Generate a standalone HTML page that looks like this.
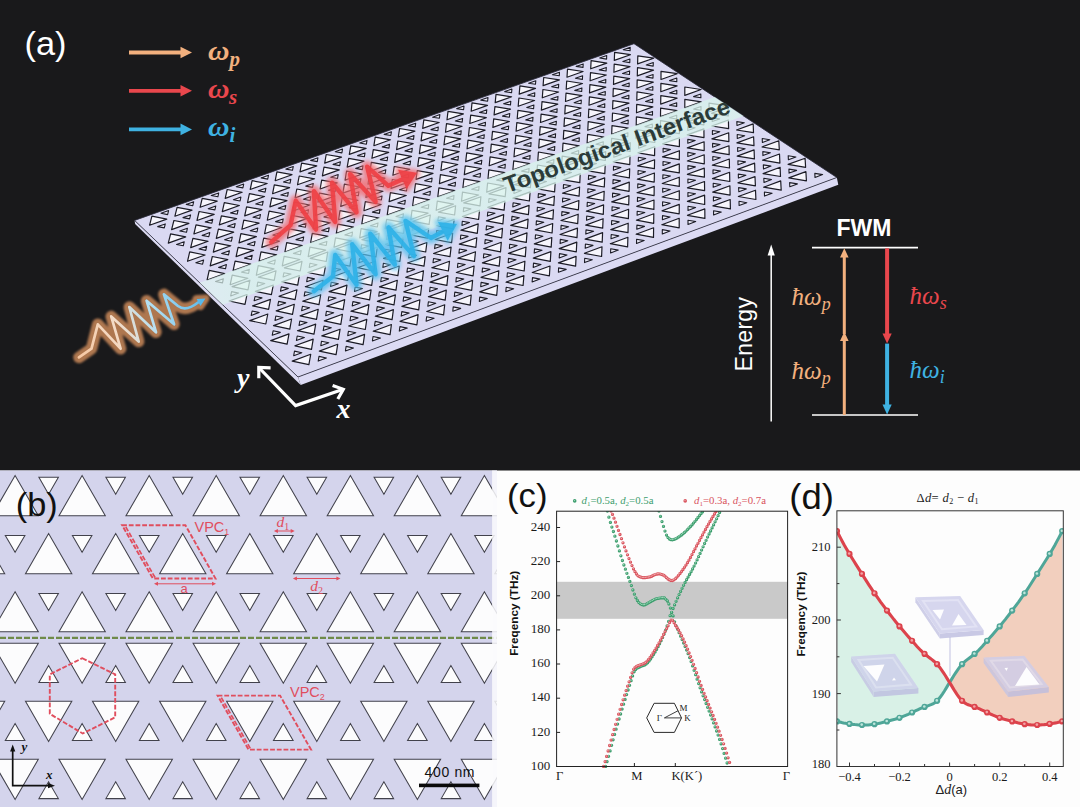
<!DOCTYPE html>
<html><head><meta charset="utf-8"><title>figure</title>
<style>html,body{margin:0;padding:0;background:#fdfdfd}svg{display:block}text{white-space:pre}</style></head>
<body><svg width="1080" height="807" viewBox="0 0 1080 807" font-family="Liberation Sans, sans-serif">
<rect x="0" y="0" width="1080" height="807" fill="#fdfdfd"/>
<rect x="0" y="0" width="1080" height="470.5" fill="#19191b"/>
<path d="M134.6 220.4 L298 377 L300.7 385 L135.1 223.9Z" fill="#dcdbf3"/>
<path d="M298 377 L836.8 177.5 L838.3 184.7 L300.7 385Z" fill="#dcdbf4"/>
<path d="M298 377 L836.8 177.5 L634 43.7 L134.6 220.4Z" fill="#dad9f2" stroke="#2a2a3a" stroke-width="0.8"/>
<path d="M230.2 284.7 L247.9 278.3 L232.2 275.1ZM256.3 275.3 L274 268.9 L258.2 265.7ZM282.3 265.9 L299.9 259.5 L284.1 256.4ZM308.2 256.6 L325.7 250.2 L309.9 247.1ZM334 247.2 L351.5 240.9 L335.5 237.8ZM359.7 237.9 L377.1 231.7 L361.1 228.6ZM385.3 228.7 L402.6 222.4 L386.6 219.4ZM410.8 219.5 L428.1 213.2 L412 210.3ZM436.2 210.3 L453.4 204.1 L437.3 201.1ZM461.5 201.2 L478.6 195 L462.5 192.1ZM486.7 192.1 L503.8 185.9 L487.6 183ZM511.8 183 L528.8 176.8 L512.6 174ZM536.8 174 L553.8 167.8 L537.5 165ZM561.7 165 L578.6 158.9 L562.2 156.1ZM586.5 156 L603.3 149.9 L587 147.2ZM611.2 147.1 L628 141 L611.6 138.3ZM635.9 138.2 L652.6 132.1 L636.1 129.5ZM660.4 129.3 L677 123.3 L660.5 120.7ZM684.8 120.5 L701.4 114.5 L684.8 111.9ZM709.2 111.7 L725.7 105.7 L709 103.1ZM207.1 280 L224.8 273.6 L209.2 270.4ZM233.1 270.6 L250.8 264.2 L235.1 261.1ZM259.1 261.3 L276.7 254.9 L261 251.8ZM284.9 252 L302.4 245.6 L286.7 242.6ZM310.6 242.7 L328.1 236.4 L312.3 233.3ZM336.3 233.4 L353.6 227.2 L337.8 224.2ZM361.8 224.2 L379.1 218 L363.2 215ZM387.2 215.1 L404.5 208.9 L388.5 205.9ZM412.6 206 L429.7 199.8 L413.8 196.9ZM437.8 196.9 L454.9 190.7 L438.9 187.8ZM462.9 187.8 L480 181.7 L463.9 178.8ZM488 178.8 L504.9 172.7 L488.8 169.9ZM512.9 169.8 L529.8 163.7 L513.7 160.9ZM537.8 160.8 L554.6 154.8 L538.4 152ZM562.5 151.9 L579.3 145.9 L563 143.2ZM587.1 143.1 L603.9 137 L587.6 134.3ZM611.7 134.2 L628.3 128.2 L612 125.6ZM636.2 125.4 L652.7 119.4 L636.4 116.8ZM660.5 116.6 L677.1 110.7 L660.6 108.1ZM684.8 107.9 L701.3 101.9 L684.8 99.4ZM210.2 265.9 L227.8 259.6 L212.3 256.5ZM236.1 256.6 L253.6 250.4 L238.1 247.3ZM261.8 247.4 L279.3 241.1 L263.7 238.1ZM287.5 238.2 L304.9 231.9 L289.2 228.9ZM313.1 229 L330.4 222.8 L314.7 219.8ZM338.5 219.8 L355.8 213.6 L340 210.7ZM363.9 210.7 L381.1 204.5 L365.3 201.6ZM389.1 201.6 L406.3 195.5 L390.4 192.6ZM414.3 192.6 L431.4 186.5 L415.5 183.6ZM439.4 183.6 L456.4 177.5 L440.4 174.7ZM464.3 174.6 L481.3 168.5 L465.3 165.8ZM489.2 165.7 L506.1 159.6 L490.1 156.9ZM514 156.8 L530.8 150.7 L514.7 148ZM538.7 147.9 L555.4 141.9 L539.3 139.2ZM563.3 139.1 L579.9 133.1 L563.8 130.4ZM587.8 130.3 L604.4 124.3 L588.2 121.7ZM612.2 121.5 L628.7 115.6 L612.5 113ZM636.5 112.8 L652.9 106.9 L636.7 104.3ZM660.7 104.1 L677.1 98.2 L660.8 95.6ZM684.8 95.4 L701.1 89.5 L684.8 87ZM187.5 261.3 L205.1 255 L189.7 251.9ZM213.3 252.1 L230.8 245.8 L215.4 242.8ZM239 242.9 L256.4 236.6 L240.9 233.6ZM264.6 233.7 L281.9 227.5 L266.4 224.5ZM290.1 224.6 L307.3 218.4 L291.8 215.4ZM315.5 215.5 L332.7 209.3 L317.1 206.4ZM340.7 206.4 L357.9 200.3 L342.2 197.4ZM365.9 197.4 L383 191.3 L367.3 188.4ZM391 188.4 L408 182.3 L392.3 179.5ZM416 179.4 L433 173.4 L417.2 170.6ZM440.9 170.5 L457.8 164.5 L442 161.7ZM465.7 161.6 L482.6 155.6 L466.7 152.9ZM490.5 152.8 L507.2 146.8 L491.3 144.1ZM515.1 143.9 L531.8 138 L515.8 135.3ZM539.6 135.1 L556.2 129.2 L540.2 126.6ZM564 126.4 L580.6 120.5 L564.5 117.9ZM588.4 117.7 L604.9 111.8 L588.8 109.2ZM612.6 109 L629 103.1 L612.9 100.6ZM636.8 100.3 L653.1 94.5 L637 91.9ZM660.8 91.7 L677.1 85.9 L660.9 83.4ZM190.7 247.6 L208.1 241.3 L192.9 238.3ZM216.3 238.4 L233.7 232.2 L218.4 229.2ZM241.9 229.3 L259.1 223.1 L243.8 220.1ZM267.3 220.2 L284.5 214 L269.1 211.1ZM292.6 211.1 L309.8 205 L294.3 202.1ZM317.8 202.1 L334.9 196 L319.4 193.1ZM342.9 193.1 L360 187.1 L344.4 184.2ZM368 184.2 L384.9 178.1 L369.3 175.3ZM392.9 175.3 L409.8 169.3 L394.2 166.5ZM417.7 166.4 L434.6 160.4 L418.9 157.7ZM442.5 157.6 L459.2 151.6 L443.5 148.9ZM467.1 148.8 L483.8 142.8 L468 140.1ZM491.7 140 L508.3 134 L492.5 131.4ZM516.1 131.2 L532.7 125.3 L516.8 122.7ZM540.5 122.5 L557 116.6 L541.1 114.1ZM564.8 113.9 L581.2 108 L565.3 105.4ZM589 105.2 L605.3 99.4 L589.4 96.8ZM613 96.6 L629.4 90.8 L613.3 88.3ZM637 88 L653.3 82.2 L637.2 79.8ZM661 79.5 L677.2 73.7 L661 71.3ZM168.3 243.1 L185.7 236.9 L170.6 233.9ZM193.9 234 L211.2 227.8 L196 224.8ZM219.3 224.9 L236.6 218.7 L221.4 215.8ZM244.7 215.9 L261.9 209.7 L246.6 206.8ZM269.9 206.9 L287 200.7 L271.7 197.9ZM295.1 197.9 L312.1 191.8 L296.8 189ZM320.1 189 L337.1 182.9 L321.7 180.1ZM345.1 180.1 L362 174 L346.6 171.2ZM370 171.2 L386.8 165.2 L371.3 162.4ZM394.7 162.4 L411.5 156.4 L396 153.7ZM419.4 153.6 L436.1 147.6 L420.5 144.9ZM444 144.8 L460.7 138.9 L445 136.2ZM468.5 136.1 L485.1 130.2 L469.4 127.5ZM492.9 127.4 L509.4 121.5 L493.7 118.9ZM517.2 118.7 L533.7 112.8 L517.9 110.3ZM541.4 110.1 L557.8 104.2 L542 101.7ZM565.5 101.5 L581.9 95.7 L566 93.2ZM589.5 92.9 L605.8 87.1 L589.9 84.7ZM613.5 84.4 L629.7 78.6 L613.8 76.2ZM637.3 75.9 L653.5 70.1 L637.5 67.7ZM171.6 229.6 L188.9 223.4 L173.9 220.5ZM197 220.5 L214.2 214.4 L199.1 211.5ZM222.3 211.6 L239.4 205.5 L224.3 202.6ZM247.5 202.6 L264.5 196.5 L249.4 193.7ZM272.6 193.7 L289.6 187.6 L274.3 184.8ZM297.5 184.8 L314.5 178.8 L299.2 176ZM322.4 175.9 L339.3 169.9 L324 167.2ZM347.2 167.1 L364 161.2 L348.7 158.4ZM371.9 158.3 L388.7 152.4 L373.3 149.7ZM396.6 149.6 L413.2 143.7 L397.8 141ZM421.1 140.9 L437.7 135 L422.2 132.3ZM445.5 132.2 L462.1 126.3 L446.5 123.7ZM469.8 123.5 L486.3 117.7 L470.7 115.1ZM494.1 114.9 L510.5 109.1 L494.9 106.6ZM518.2 106.3 L534.6 100.5 L518.9 98ZM542.3 97.8 L558.6 92 L542.9 89.5ZM566.2 89.3 L582.5 83.5 L566.7 81ZM590.1 80.8 L606.3 75 L590.5 72.6ZM613.9 72.3 L630 66.6 L614.2 64.2ZM637.6 63.9 L653.7 58.2 L637.8 55.8ZM149.6 225.2 L166.8 219.1 L151.9 216.2ZM174.9 216.2 L192 210.1 L177.1 207.3ZM200.1 207.3 L217.2 201.2 L202.2 198.4ZM225.2 198.4 L242.2 192.3 L227.2 189.5ZM250.2 189.5 L267.2 183.5 L252.1 180.7ZM275.2 180.7 L292 174.7 L276.9 171.9ZM300 171.9 L316.8 165.9 L301.6 163.2ZM324.7 163.1 L341.5 157.2 L326.2 154.5ZM349.3 154.4 L366.1 148.4 L350.8 145.8ZM373.9 145.7 L390.5 139.8 L375.2 137.1ZM398.3 137 L414.9 131.1 L399.6 128.5ZM422.7 128.4 L439.2 122.5 L423.8 119.9ZM447 119.8 L463.4 113.9 L448 111.4ZM471.2 111.2 L487.5 105.4 L472 102.9ZM495.2 102.6 L511.6 96.8 L496 94.4ZM519.2 94.1 L535.5 88.4 L519.9 85.9ZM543.1 85.6 L559.4 79.9 L543.7 77.5ZM567 77.2 L583.1 71.5 L567.5 69.1ZM590.7 68.8 L606.8 63.1 L591.1 60.7ZM614.3 60.4 L630.4 54.7 L614.6 52.4ZM232.1 286.6 L249.9 280.2 L248 289.9ZM258.3 277.2 L276 270.8 L274.2 280.4ZM284.3 267.8 L302 261.4 L300.2 271ZM310.2 258.4 L327.8 252 L326.2 261.5ZM336.1 249 L353.6 242.7 L352.1 252.2ZM361.8 239.7 L379.2 233.4 L377.9 242.8ZM387.4 230.5 L404.8 224.2 L403.5 233.5ZM413 221.3 L430.3 215 L429.1 224.3ZM438.4 212.1 L455.6 205.8 L454.6 215ZM463.7 202.9 L480.9 196.7 L480 205.9ZM488.9 193.8 L506 187.6 L505.2 196.7ZM514.1 184.7 L531.1 178.5 L530.4 187.6ZM539.1 175.7 L556 169.5 L555.5 178.5ZM564 166.6 L580.9 160.5 L580.5 169.5ZM588.8 157.7 L605.7 151.6 L605.3 160.5ZM613.6 148.7 L630.3 142.7 L630.1 151.5ZM638.2 139.8 L654.9 133.8 L654.8 142.5ZM662.8 130.9 L679.4 124.9 L679.4 133.6ZM687.2 122.1 L703.8 116.1 L703.9 124.8ZM711.6 113.3 L728.1 107.3 L728.3 115.9ZM229.1 301 L247 294.5 L245 304.3ZM255.4 291.4 L273.3 285 L271.4 294.7ZM281.7 281.9 L299.4 275.5 L297.7 285.2ZM307.8 272.5 L325.5 266.1 L323.8 275.7ZM333.8 263 L351.4 256.7 L349.9 266.2ZM359.7 253.7 L377.2 247.3 L375.9 256.8ZM385.5 244.3 L403 238 L401.7 247.4ZM411.2 235 L428.6 228.7 L427.4 238.1ZM436.8 225.7 L454.1 219.4 L453.1 228.8ZM462.3 216.5 L479.5 210.2 L478.6 219.5ZM487.7 207.3 L504.9 201 L504.1 210.2ZM512.9 198.1 L530.1 191.9 L529.4 201ZM538.1 189 L555.2 182.8 L554.6 191.9ZM563.2 179.9 L580.2 173.7 L579.8 182.7ZM588.2 170.8 L605.2 164.7 L604.8 173.6ZM613.1 161.8 L630 155.7 L629.8 164.6ZM637.9 152.8 L654.7 146.7 L654.6 155.6ZM662.6 143.8 L679.4 137.8 L679.4 146.6ZM687.2 134.9 L703.9 128.9 L704 137.6ZM711.8 126 L728.4 120 L728.6 128.7ZM252.6 305.9 L270.5 299.4 L268.6 309.3ZM279 296.3 L296.9 289.8 L295.1 299.6ZM305.3 286.7 L323.1 280.3 L321.4 290ZM331.4 277.2 L349.2 270.8 L347.7 280.5ZM357.5 267.7 L375.2 261.3 L373.8 271ZM383.5 258.3 L401.1 251.9 L399.8 261.5ZM409.4 248.9 L426.9 242.5 L425.7 252ZM435.1 239.5 L452.6 233.2 L451.6 242.6ZM460.8 230.2 L478.2 223.9 L477.3 233.3ZM486.4 220.9 L503.7 214.6 L502.9 223.9ZM511.8 211.6 L529.1 205.4 L528.4 214.7ZM537.2 202.4 L554.4 196.2 L553.8 205.4ZM562.5 193.2 L579.6 187 L579.1 196.2ZM587.6 184.1 L604.7 177.9 L604.3 187ZM612.7 175 L629.7 168.8 L629.4 177.9ZM637.6 165.9 L654.6 159.8 L654.4 168.7ZM662.5 156.9 L679.4 150.7 L679.3 159.7ZM687.3 147.9 L704.1 141.8 L704.2 150.6ZM711.9 138.9 L728.7 132.8 L728.9 141.6ZM736.5 130 L753.2 123.9 L753.5 132.7ZM249.7 320.6 L267.8 314 L265.8 324ZM276.2 310.9 L294.3 304.3 L292.5 314.3ZM302.7 301.2 L320.7 294.7 L319 304.6ZM329.1 291.6 L347 285.1 L345.4 294.9ZM355.3 282 L373.1 275.5 L371.7 285.3ZM381.5 272.5 L399.2 266 L397.9 275.7ZM407.5 263 L425.2 256.6 L424 266.2ZM433.5 253.5 L451.1 247.1 L450 256.7ZM459.3 244.1 L476.8 237.7 L475.9 247.3ZM485.1 234.7 L502.5 228.4 L501.7 237.8ZM510.7 225.4 L528.1 219.1 L527.4 228.5ZM536.2 216.1 L553.5 209.8 L552.9 219.1ZM561.7 206.8 L578.9 200.5 L578.4 209.8ZM587 197.6 L604.2 191.3 L603.8 200.5ZM612.2 188.4 L629.3 182.1 L629.1 191.3ZM637.3 179.2 L654.4 173 L654.2 182.1ZM662.4 170.1 L679.3 163.9 L679.3 172.9ZM687.3 161 L704.2 154.8 L704.3 163.8ZM712.1 151.9 L729 145.8 L729.2 154.7ZM736.9 142.9 L753.6 136.8 L754 145.7ZM273.5 325.6 L291.6 319 L289.8 329.1ZM300.1 315.9 L318.2 309.3 L316.5 319.3ZM326.7 306.2 L344.7 299.6 L343.1 309.6ZM353.1 296.5 L371.1 289.9 L369.6 299.9ZM379.5 286.9 L397.3 280.3 L396 290.2ZM405.7 277.3 L423.5 270.8 L422.3 280.6ZM431.8 267.7 L449.5 261.3 L448.4 271ZM457.8 258.2 L475.5 251.8 L474.5 261.4ZM483.7 248.7 L501.3 242.3 L500.5 251.9ZM509.5 239.3 L527 232.9 L526.3 242.4ZM535.2 229.9 L552.7 223.5 L552.1 233ZM560.9 220.5 L578.2 214.2 L577.7 223.6ZM586.3 211.2 L603.6 204.9 L603.3 214.3ZM611.7 201.9 L629 195.6 L628.7 204.9ZM637 192.7 L654.2 186.4 L654.1 195.6ZM662.2 183.5 L679.3 177.2 L679.3 186.4ZM687.3 174.3 L704.3 168.1 L704.4 177.2ZM712.3 165.2 L729.3 159 L729.5 168ZM737.2 156.1 L754.1 149.9 L754.4 158.9ZM762 147 L778.8 140.8 L779.3 149.8ZM270.7 340.6 L289 333.9 L287.1 344.1ZM297.5 330.7 L315.7 324.1 L314 334.2ZM324.3 320.9 L342.4 314.3 L340.8 324.4ZM350.9 311.2 L368.9 304.6 L367.5 314.6ZM377.4 301.4 L395.4 294.9 L394 304.8ZM403.8 291.8 L421.7 285.2 L420.5 295.1ZM430.1 282.1 L447.9 275.6 L446.9 285.4ZM456.3 272.5 L474.1 266 L473.1 275.8ZM482.4 262.9 L500.1 256.5 L499.2 266.2ZM508.4 253.4 L526 247 L525.3 256.6ZM534.3 243.9 L551.8 237.5 L551.2 247.1ZM560 234.5 L577.5 228.1 L577 237.6ZM585.7 225.1 L603.1 218.7 L602.7 228.2ZM611.3 215.7 L628.6 209.3 L628.4 218.7ZM636.7 206.3 L654 200 L653.9 209.4ZM662.1 197 L679.3 190.7 L679.3 200ZM687.4 187.8 L704.5 181.5 L704.6 190.7ZM712.5 178.6 L729.6 172.3 L729.8 181.5ZM737.6 169.4 L754.6 163.1 L754.9 172.2ZM762.5 160.2 L779.5 154 L779.9 163.1ZM294.9 345.8 L313.2 339.1 L311.5 349.4ZM321.8 335.9 L340.1 329.2 L338.4 339.4ZM348.6 326 L366.8 319.4 L365.3 329.5ZM375.3 316.2 L393.4 309.6 L392.1 319.7ZM401.9 306.4 L419.9 299.8 L418.7 309.9ZM428.4 296.7 L446.3 290.1 L445.2 300.1ZM454.8 287 L472.6 280.4 L471.7 290.3ZM481 277.3 L498.8 270.8 L498 280.6ZM507.2 267.7 L524.9 261.2 L524.2 271ZM533.3 258.1 L550.9 251.6 L550.3 261.4ZM559.2 248.6 L576.8 242.1 L576.3 251.8ZM585.1 239.1 L602.6 232.6 L602.2 242.2ZM610.8 229.6 L628.2 223.2 L628 232.7ZM636.4 220.2 L653.8 213.8 L653.7 223.3ZM662 210.8 L679.3 204.4 L679.2 213.8ZM687.4 201.4 L704.6 195.1 L704.7 204.5ZM712.7 192.1 L729.9 185.8 L730.1 195.1ZM737.9 182.8 L755 176.6 L755.4 185.8ZM763.1 173.6 L780.1 167.3 L780.5 176.5ZM788.1 164.4 L805.1 158.2 L805.6 167.3ZM292.2 361.1 L310.7 354.3 L308.9 364.7ZM319.3 351.1 L337.7 344.3 L336.1 354.7ZM346.3 341.1 L364.6 334.4 L363.1 344.7ZM373.2 331.2 L391.4 324.5 L390.1 334.7ZM400 321.3 L418.1 314.6 L416.9 324.8ZM426.7 311.5 L444.7 304.8 L443.6 314.9ZM453.2 301.7 L471.2 295 L470.2 305.1ZM479.7 291.9 L497.6 285.3 L496.7 295.3ZM506 282.2 L523.9 275.6 L523.1 285.5ZM532.2 272.5 L550 266 L549.4 275.8ZM558.4 262.9 L576.1 256.4 L575.6 266.2ZM584.4 253.3 L602 246.8 L601.6 256.5ZM610.3 243.7 L627.9 237.3 L627.6 246.9ZM636.1 234.2 L653.6 227.8 L653.5 237.4ZM661.8 224.7 L679.2 218.3 L679.2 227.8ZM687.4 215.3 L704.8 208.9 L704.9 218.4ZM712.9 205.9 L730.2 199.5 L730.4 208.9ZM738.3 196.5 L755.5 190.2 L755.9 199.5ZM763.6 187.2 L780.7 180.9 L781.2 190.2ZM788.8 177.9 L805.9 171.6 L806.4 180.8Z" fill="#f6f5fc" stroke="#1c1c26" stroke-width="1.2" stroke-linejoin="round"/>
<path d="M215.5 281.5 L223.4 278.7 L222.5 282.9ZM241.6 272.1 L249.4 269.3 L248.6 273.5ZM267.6 262.8 L275.3 260 L274.5 264.2ZM293.4 253.4 L301.2 250.6 L300.4 254.8ZM319.2 244.1 L326.9 241.4 L326.2 245.5ZM344.8 234.9 L352.5 232.1 L351.9 236.2ZM370.4 225.7 L378 222.9 L377.4 227ZM395.9 216.5 L403.5 213.7 L402.9 217.8ZM421.2 207.3 L428.8 204.6 L428.3 208.6ZM446.5 198.2 L454 195.5 L453.6 199.5ZM471.6 189.2 L479.1 186.4 L478.7 190.4ZM496.7 180.1 L504.2 177.4 L503.8 181.4ZM521.6 171.1 L529.1 168.4 L528.8 172.4ZM546.5 162.2 L553.9 159.5 L553.7 163.4ZM571.3 153.2 L578.7 150.6 L578.5 154.4ZM595.9 144.3 L603.3 141.7 L603.2 145.5ZM620.5 135.5 L627.9 132.8 L627.8 136.6ZM645 126.6 L652.3 124 L652.3 127.8ZM669.4 117.8 L676.7 115.2 L676.7 119ZM693.7 109.1 L701 106.5 L701 110.2ZM218.6 267.4 L226.4 264.6 L225.5 268.8ZM244.5 258.1 L252.2 255.3 L251.4 259.5ZM270.3 248.9 L278 246.1 L277.2 250.2ZM296 239.6 L303.7 236.9 L302.9 241ZM321.6 230.4 L329.2 227.7 L328.5 231.8ZM347 221.2 L354.7 218.5 L354 222.6ZM372.4 212.1 L380 209.4 L379.4 213.4ZM397.7 203 L405.3 200.3 L404.7 204.3ZM422.9 194 L430.4 191.3 L429.9 195.2ZM448 184.9 L455.5 182.2 L455.1 186.2ZM473 176 L480.5 173.3 L480.1 177.2ZM497.9 167 L505.3 164.3 L505 168.2ZM522.7 158.1 L530.1 155.4 L529.8 159.3ZM547.4 149.2 L554.8 146.5 L554.5 150.4ZM572 140.3 L579.3 137.7 L579.1 141.5ZM596.5 131.5 L603.8 128.9 L603.7 132.7ZM620.9 122.7 L628.2 120.1 L628.1 123.9ZM645.2 114 L652.5 111.4 L652.5 115.1ZM669.5 105.3 L676.7 102.7 L676.7 106.4ZM693.6 96.6 L700.8 94 L700.9 97.7ZM195.8 262.8 L203.6 260 L202.6 264.2ZM221.6 253.5 L229.4 250.8 L228.5 254.9ZM247.4 244.3 L255.1 241.6 L254.2 245.7ZM273 235.1 L280.6 232.4 L279.8 236.5ZM298.5 226 L306.1 223.2 L305.4 227.3ZM323.9 216.9 L331.5 214.1 L330.8 218.2ZM349.2 207.8 L356.8 205.1 L356.2 209.1ZM374.4 198.7 L382 196 L381.4 200ZM399.5 189.7 L407.1 187 L406.5 191ZM424.6 180.8 L432.1 178.1 L431.6 182ZM449.5 171.8 L457 169.1 L456.5 173.1ZM474.3 162.9 L481.8 160.2 L481.4 164.1ZM499.1 154 L506.5 151.4 L506.1 155.2ZM523.7 145.2 L531.1 142.6 L530.8 146.4ZM548.2 136.4 L555.6 133.8 L555.3 137.6ZM572.7 127.6 L580 125 L579.8 128.8ZM597 118.9 L604.3 116.3 L604.2 120ZM621.3 110.2 L628.6 107.6 L628.5 111.3ZM645.5 101.5 L652.7 98.9 L652.7 102.6ZM669.6 92.9 L676.8 90.3 L676.8 94ZM199 249 L206.7 246.2 L205.8 250.4ZM224.6 239.8 L232.3 237.1 L231.4 241.2ZM250.2 230.7 L257.8 228 L257 232ZM275.6 221.6 L283.2 218.9 L282.5 222.9ZM301 212.5 L308.5 209.8 L307.8 213.8ZM326.2 203.5 L333.8 200.8 L333.1 204.8ZM351.4 194.5 L358.9 191.8 L358.3 195.8ZM376.4 185.5 L383.9 182.9 L383.3 186.8ZM401.4 176.6 L408.8 173.9 L408.3 177.9ZM426.2 167.7 L433.7 165.1 L433.2 168.9ZM451 158.9 L458.4 156.2 L458 160.1ZM475.6 150 L483 147.4 L482.6 151.2ZM500.2 141.2 L507.6 138.6 L507.2 142.4ZM524.7 132.5 L532 129.9 L531.7 133.7ZM549.1 123.8 L556.4 121.2 L556.1 124.9ZM573.4 115.1 L580.7 112.5 L580.5 116.2ZM597.6 106.4 L604.8 103.8 L604.7 107.5ZM621.7 97.8 L628.9 95.2 L628.8 98.9ZM645.7 89.2 L652.9 86.6 L652.8 90.3ZM669.6 80.6 L676.8 78.1 L676.8 81.7ZM176.5 244.5 L184.2 241.8 L183.3 245.8ZM202.1 235.4 L209.8 232.6 L208.8 236.7ZM227.6 226.3 L235.2 223.6 L234.3 227.6ZM253 217.2 L260.5 214.5 L259.7 218.5ZM278.2 208.2 L285.8 205.5 L285 209.5ZM303.4 199.2 L310.9 196.6 L310.2 200.5ZM328.5 190.3 L336 187.6 L335.3 191.6ZM353.5 181.4 L360.9 178.7 L360.3 182.6ZM378.4 172.5 L385.8 169.8 L385.2 173.7ZM403.1 163.7 L410.6 161 L410 164.9ZM427.8 154.8 L435.2 152.2 L434.8 156ZM452.4 146.1 L459.8 143.4 L459.4 147.3ZM477 137.3 L484.3 134.7 L483.9 138.5ZM501.4 128.6 L508.7 126 L508.3 129.8ZM525.7 119.9 L533 117.3 L532.7 121.1ZM549.9 111.3 L557.2 108.7 L556.9 112.4ZM574.1 102.7 L581.3 100.1 L581.1 103.8ZM598.1 94.1 L605.3 91.5 L605.2 95.2ZM622.1 85.5 L629.2 83 L629.1 86.6ZM645.9 77 L653.1 74.5 L653 78.1ZM179.8 231 L187.4 228.3 L186.5 232.3ZM205.2 221.9 L212.8 219.2 L211.9 223.2ZM230.5 212.9 L238.1 210.2 L237.2 214.2ZM255.7 204 L263.2 201.3 L262.4 205.2ZM280.8 195 L288.3 192.4 L287.6 196.3ZM305.8 186.1 L313.3 183.5 L312.6 187.4ZM330.7 177.3 L338.2 174.6 L337.5 178.5ZM355.6 168.4 L363 165.8 L362.4 169.6ZM380.3 159.6 L387.7 157 L387.1 160.8ZM404.9 150.9 L412.3 148.2 L411.8 152.1ZM429.5 142.1 L436.8 139.5 L436.3 143.3ZM453.9 133.4 L461.2 130.8 L460.8 134.6ZM478.2 124.8 L485.5 122.2 L485.2 125.9ZM502.5 116.1 L509.8 113.5 L509.4 117.3ZM526.7 107.5 L533.9 105 L533.6 108.7ZM550.8 99 L558 96.4 L557.7 100.1ZM574.7 90.4 L581.9 87.9 L581.7 91.5ZM598.6 81.9 L605.8 79.4 L605.7 83ZM622.5 73.5 L629.6 70.9 L629.5 74.5ZM646.2 65 L653.3 62.5 L653.2 66.1ZM157.7 226.6 L165.3 223.9 L164.3 227.9ZM183 217.6 L190.6 214.9 L189.6 218.9ZM208.2 208.7 L215.8 206 L214.9 209.9ZM233.4 199.7 L240.9 197.1 L240.1 201ZM258.4 190.8 L265.9 188.2 L265.1 192.1ZM283.4 182 L290.8 179.3 L290.1 183.2ZM308.2 173.2 L315.6 170.5 L314.9 174.4ZM333 164.4 L340.4 161.8 L339.7 165.6ZM357.6 155.6 L365 153 L364.4 156.8ZM382.2 146.9 L389.5 144.3 L389 148.1ZM406.7 138.2 L414 135.6 L413.5 139.4ZM431 129.6 L438.3 127 L437.9 130.7ZM455.3 121 L462.6 118.4 L462.2 122.1ZM479.5 112.4 L486.8 109.8 L486.4 113.5ZM503.6 103.8 L510.8 101.3 L510.5 104.9ZM527.7 95.3 L534.8 92.7 L534.6 96.4ZM551.6 86.8 L558.7 84.3 L558.5 87.9ZM575.4 78.3 L582.6 75.8 L582.4 79.4ZM599.2 69.9 L606.3 67.4 L606.1 71ZM622.8 61.5 L629.9 59 L629.8 62.6ZM161 213.3 L168.6 210.6 L167.6 214.6ZM186.2 204.4 L193.7 201.7 L192.8 205.7ZM211.2 195.5 L218.7 192.9 L217.9 196.8ZM236.2 186.7 L243.7 184.1 L242.9 187.9ZM261.1 177.9 L268.5 175.3 L267.7 179.1ZM285.9 169.1 L293.3 166.5 L292.5 170.3ZM310.6 160.4 L317.9 157.8 L317.3 161.6ZM335.2 151.7 L342.5 149.1 L341.9 152.9ZM359.7 143 L367 140.4 L366.4 144.2ZM384.1 134.4 L391.4 131.8 L390.8 135.5ZM408.4 125.8 L415.7 123.2 L415.2 126.9ZM432.6 117.2 L439.9 114.6 L439.4 118.3ZM456.7 108.6 L464 106.1 L463.6 109.8ZM480.8 100.1 L488 97.6 L487.6 101.2ZM504.7 91.6 L511.9 89.1 L511.6 92.7ZM528.6 83.2 L535.8 80.7 L535.5 84.3ZM552.4 74.8 L559.5 72.3 L559.3 75.8ZM576.1 66.4 L583.2 63.9 L583 67.4ZM599.7 58 L606.7 55.5 L606.6 59.1ZM623.2 49.7 L630.2 47.2 L630.1 50.7ZM230.7 295.9 L238.6 293.1 L231.6 291.6ZM257 286.4 L264.8 283.6 L257.8 282.1ZM283.1 276.9 L291 274.1 L283.9 272.7ZM309.2 267.5 L317 264.7 L309.9 263.3ZM335.1 258.1 L342.9 255.3 L335.8 253.9ZM361 248.8 L368.7 246 L361.6 244.6ZM386.7 239.4 L394.4 236.6 L387.3 235.3ZM412.3 230.2 L420 227.4 L412.9 226ZM437.9 220.9 L445.5 218.1 L438.4 216.8ZM463.3 211.7 L470.9 208.9 L463.7 207.6ZM488.6 202.5 L496.2 199.8 L489 198.5ZM513.9 193.4 L521.4 190.6 L514.2 189.4ZM539 184.3 L546.5 181.5 L539.3 180.3ZM564.1 175.2 L571.5 172.5 L564.3 171.2ZM589 166.2 L596.5 163.5 L589.2 162.2ZM613.8 157.2 L621.3 154.5 L614 153.3ZM638.6 148.2 L646 145.5 L638.7 144.3ZM663.2 139.3 L670.6 136.6 L663.3 135.4ZM687.8 130.4 L695.1 127.7 L687.8 126.6ZM712.2 121.5 L719.6 118.9 L712.2 117.7ZM254.1 300.8 L262 297.9 L255 296.5ZM280.5 291.2 L288.3 288.4 L281.3 286.9ZM306.7 281.7 L314.5 278.9 L307.4 277.4ZM332.8 272.2 L340.6 269.4 L333.5 268ZM358.8 262.8 L366.6 260 L359.5 258.6ZM384.7 253.4 L392.5 250.6 L385.3 249.2ZM410.6 244 L418.3 241.2 L411.1 239.8ZM436.3 234.7 L444 231.9 L436.7 230.5ZM461.9 225.4 L469.5 222.6 L462.3 221.2ZM487.4 216.1 L495 213.3 L487.8 212ZM512.8 206.9 L520.4 204.1 L513.1 202.8ZM538.1 197.7 L545.6 194.9 L538.4 193.6ZM563.3 188.5 L570.8 185.8 L563.5 184.5ZM588.4 179.4 L595.9 176.7 L588.6 175.4ZM613.4 170.3 L620.9 167.6 L613.5 166.4ZM638.3 161.3 L645.7 158.6 L638.4 157.3ZM663.1 152.3 L670.5 149.6 L663.1 148.4ZM687.8 143.3 L695.2 140.6 L687.8 139.4ZM712.4 134.4 L719.8 131.7 L712.4 130.5ZM737 125.4 L744.3 122.8 L736.8 121.6ZM251.2 315.4 L259.2 312.5 L252.1 311ZM277.8 305.7 L285.7 302.9 L278.6 301.4ZM304.2 296.1 L312.1 293.2 L304.9 291.8ZM330.5 286.5 L338.3 283.7 L331.2 282.2ZM356.7 277 L364.5 274.1 L357.3 272.7ZM382.8 267.5 L390.6 264.7 L383.4 263.2ZM408.7 258 L416.5 255.2 L409.3 253.8ZM434.6 248.6 L442.4 245.8 L435.1 244.4ZM460.4 239.2 L468.1 236.4 L460.8 235ZM486.1 229.9 L493.8 227.1 L486.5 225.7ZM511.6 220.5 L519.3 217.8 L512 216.4ZM537.1 211.3 L544.7 208.5 L537.4 207.2ZM562.5 202 L570.1 199.3 L562.7 198ZM587.8 192.8 L595.3 190.1 L587.9 188.8ZM612.9 183.7 L620.5 180.9 L613.1 179.6ZM638 174.5 L645.5 171.8 L638.1 170.5ZM663 165.4 L670.4 162.7 L663 161.5ZM687.8 156.4 L695.3 153.7 L687.8 152.4ZM712.6 147.3 L720 144.6 L712.6 143.4ZM737.3 138.4 L744.7 135.7 L737.2 134.5ZM275 320.4 L283 317.5 L275.8 316ZM301.6 310.7 L309.6 307.8 L302.4 306.3ZM328.1 301 L336 298.1 L328.8 296.7ZM354.5 291.4 L362.4 288.5 L355.1 287.1ZM380.7 281.8 L388.6 278.9 L381.3 277.5ZM406.9 272.3 L414.7 269.4 L407.5 268ZM433 262.7 L440.8 259.9 L433.5 258.5ZM458.9 253.3 L466.7 250.4 L459.4 249ZM484.8 243.8 L492.5 241 L485.2 239.6ZM510.5 234.4 L518.2 231.6 L510.8 230.2ZM536.1 225 L543.8 222.2 L536.4 220.9ZM561.7 215.7 L569.3 212.9 L561.9 211.6ZM587.1 206.4 L594.7 203.6 L587.3 202.3ZM612.5 197.2 L620 194.4 L612.6 193.1ZM637.7 187.9 L645.3 185.2 L637.8 183.9ZM662.8 178.8 L670.4 176 L662.9 174.7ZM687.9 169.6 L695.4 166.9 L687.9 165.6ZM712.8 160.5 L720.3 157.8 L712.8 156.5ZM737.7 151.4 L745.1 148.7 L737.6 147.5ZM762.4 142.4 L769.8 139.7 L762.2 138.5ZM272.2 335.3 L280.3 332.4 L273.1 330.8ZM299 325.5 L307 322.6 L299.8 321ZM325.7 315.7 L333.7 312.8 L326.4 311.3ZM352.2 306 L360.2 303.1 L352.9 301.6ZM378.7 296.3 L386.6 293.4 L379.3 291.9ZM405 286.7 L412.9 283.8 L405.6 282.3ZM431.3 277.1 L439.1 274.2 L431.8 272.7ZM457.4 267.5 L465.2 264.6 L457.9 263.2ZM483.4 257.9 L491.2 255.1 L483.8 253.7ZM509.4 248.4 L517.1 245.6 L509.7 244.2ZM535.2 239 L542.9 236.2 L535.5 234.8ZM560.9 229.6 L568.6 226.8 L561.1 225.4ZM586.5 220.2 L594.2 217.4 L586.7 216ZM612 210.8 L619.6 208 L612.1 206.7ZM637.4 201.5 L645 198.8 L637.5 197.4ZM662.7 192.3 L670.3 189.5 L662.7 188.2ZM687.9 183 L695.5 180.3 L687.9 179ZM713 173.8 L720.5 171.1 L713 169.8ZM738 164.7 L745.5 161.9 L737.9 160.7ZM762.9 155.6 L770.4 152.8 L762.8 151.6ZM296.4 340.5 L304.4 337.5 L297.2 336ZM323.2 330.6 L331.3 327.7 L324 326.1ZM350 320.8 L358 317.9 L350.7 316.3ZM376.6 311 L384.6 308.1 L377.2 306.6ZM403.1 301.3 L411.1 298.4 L403.7 296.9ZM429.6 291.6 L437.5 288.7 L430.1 287.2ZM455.9 281.9 L463.8 279 L456.3 277.6ZM482.1 272.3 L489.9 269.4 L482.5 268ZM508.2 262.7 L516 259.8 L508.5 258.4ZM534.2 253.1 L542 250.3 L534.5 248.9ZM560.1 243.6 L567.8 240.8 L560.3 239.4ZM585.8 234.1 L593.6 231.3 L586 229.9ZM611.5 224.7 L619.2 221.9 L611.7 220.5ZM637.1 215.3 L644.8 212.5 L637.2 211.2ZM662.6 206 L670.2 203.2 L662.6 201.8ZM687.9 196.6 L695.5 193.8 L687.9 192.5ZM713.2 187.3 L720.8 184.6 L713.2 183.3ZM738.4 178.1 L745.9 175.3 L738.3 174.1ZM763.5 168.9 L771 166.1 L763.3 164.9ZM788.4 159.7 L795.9 157 L788.2 155.7ZM293.7 355.7 L301.8 352.7 L294.5 351.1ZM320.8 345.7 L328.8 342.8 L321.5 341.2ZM347.7 335.8 L355.8 332.8 L348.4 331.3ZM374.5 325.9 L382.5 323 L375.2 321.4ZM401.2 316.1 L409.2 313.1 L401.8 311.6ZM427.8 306.3 L435.8 303.3 L428.4 301.8ZM454.3 296.5 L462.3 293.6 L454.8 292.1ZM480.7 286.8 L488.6 283.9 L481.1 282.4ZM507 277.1 L514.9 274.2 L507.4 272.8ZM533.2 267.5 L541 264.6 L533.5 263.1ZM559.2 257.9 L567 255 L559.5 253.6ZM585.2 248.3 L593 245.4 L585.4 244ZM611 238.8 L618.8 235.9 L611.2 234.5ZM636.8 229.3 L644.5 226.4 L636.9 225.1ZM662.4 219.8 L670.1 217 L662.5 215.6ZM688 210.4 L695.6 207.6 L688 206.3ZM713.4 201 L721 198.2 L713.4 196.9ZM738.8 191.7 L746.3 188.9 L738.6 187.6ZM764 182.4 L771.5 179.6 L763.8 178.3ZM789.1 173.1 L796.6 170.4 L788.9 169.1ZM318.2 361.1 L326.4 358 L319 356.4ZM345.4 351 L353.5 348 L346.1 346.4ZM372.4 341 L380.5 338.1 L373 336.5ZM399.3 331.1 L407.3 328.1 L399.9 326.6ZM426.1 321.2 L434.1 318.2 L426.6 316.7ZM452.8 311.3 L460.7 308.4 L453.2 306.9ZM479.3 301.5 L487.3 298.6 L479.7 297.1ZM505.8 291.7 L513.7 288.8 L506.2 287.3ZM532.1 282 L540 279.1 L532.5 277.6ZM558.4 272.3 L566.2 269.4 L558.6 267.9ZM584.5 262.6 L592.3 259.7 L584.7 258.3ZM610.6 253 L618.3 250.1 L610.7 248.7ZM636.5 243.4 L644.2 240.6 L636.6 239.2ZM662.3 233.9 L670 231 L662.3 229.6ZM688 224.4 L695.7 221.5 L688 220.2ZM713.6 214.9 L721.3 212.1 L713.6 210.7ZM739.1 205.5 L746.8 202.7 L739 201.3ZM764.5 196.1 L772.1 193.3 L764.4 192ZM789.8 186.7 L797.4 183.9 L789.6 182.6ZM815 177.4 L822.6 174.6 L814.8 173.4Z" fill="#e9e8f6" stroke="#1c1c26" stroke-width="1.1" stroke-linejoin="round"/>
<defs><linearGradient id="bg" gradientUnits="userSpaceOnUse" x1="200" y1="300" x2="740" y2="105"><stop offset="0" stop-color="#e2f6f2" stop-opacity="0.6"/><stop offset="0.08" stop-color="#d8f4ec" stop-opacity="0.76"/><stop offset="1" stop-color="#d8f4ec" stop-opacity="0.76"/></linearGradient><filter id="gl" x="-20%" y="-20%" width="140%" height="140%"><feGaussianBlur stdDeviation="2.2"/></filter><filter id="gl2" x="-20%" y="-20%" width="140%" height="140%"><feGaussianBlur stdDeviation="1.2"/></filter><filter id="soft"><feGaussianBlur stdDeviation="0.5"/></filter><linearGradient id="pg" gradientUnits="userSpaceOnUse" x1="79" y1="357" x2="205" y2="299"><stop offset="0" stop-color="#f6c8a4"/><stop offset="0.35" stop-color="#f3dcc8"/><stop offset="0.6" stop-color="#b6e0f2"/><stop offset="1" stop-color="#58b8ea"/></linearGradient></defs>
<path d="M222.7 304.8 L743.5 116 L714.8 97 L199.6 282.7Z" fill="url(#bg)"/>
<text transform="translate(507.1 193.3) rotate(-19.7)" font-family="Liberation Sans, sans-serif" font-weight="bold" font-size="23" fill="#2b3b39" textLength="238.7" lengthAdjust="spacingAndGlyphs">Topological Interface</text>
<g filter="url(#gl)" opacity="0.78"><path d="M271.3 242.2 L290.5 225.2 L295.8 200.7 L316 229.4 L313.9 191.1 L335.2 222 L332 182.6 L356.5 212.4 L350.1 174.1 L375.6 201.8 L367.1 166.6 L388.4 185.8 L408 176.8" fill="none" stroke="#f2686c" stroke-width="11.5" stroke-linejoin="round" stroke-linecap="round"/><path d="M417 172.8 L406.6 188.9 L398.1 169.7Z" fill="#f2686c" stroke="#f2686c" stroke-width="6" stroke-linejoin="round"/></g>
<g filter="url(#soft)" opacity="0.9"><path d="M271.3 242.2 L290.5 225.2 L295.8 200.7 L316 229.4 L313.9 191.1 L335.2 222 L332 182.6 L356.5 212.4 L350.1 174.1 L375.6 201.8 L367.1 166.6 L388.4 185.8 L408 176.8" fill="none" stroke="#ef3f45" stroke-width="4.4" stroke-linejoin="round" stroke-linecap="round"/><path d="M417 172.8 L406.6 188.9 L398.1 169.7Z" fill="#ef3f45"/></g>
<g filter="url(#gl)" opacity="0.78"><path d="M313.9 291.2 L333 276.3 L335.2 255 L356.5 284.8 L352.2 244.3 L375.6 274.2 L370.3 233.7 L394.8 264.6 L388.4 227.3 L414 256.1 L405.5 220.9 L431 238 L448 228.7" fill="none" stroke="#55c0ee" stroke-width="11.5" stroke-linejoin="round" stroke-linecap="round"/><path d="M457 224 L447.7 240.7 L438 222.1Z" fill="#55c0ee" stroke="#55c0ee" stroke-width="6" stroke-linejoin="round"/></g>
<g filter="url(#soft)" opacity="0.9"><path d="M313.9 291.2 L333 276.3 L335.2 255 L356.5 284.8 L352.2 244.3 L375.6 274.2 L370.3 233.7 L394.8 264.6 L388.4 227.3 L414 256.1 L405.5 220.9 L431 238 L448 228.7" fill="none" stroke="#2fb2e8" stroke-width="4.4" stroke-linejoin="round" stroke-linecap="round"/><path d="M457 224 L447.7 240.7 L438 222.1Z" fill="#2fb2e8"/></g>
<g filter="url(#gl2)"><path d="M78.9 357.4 L91.5 348.7 L97.8 324.3 L120.6 348.7 L111.2 316.4 L138.7 341.6 L129.3 307 L156 332.2 L146.6 300.7 L174.1 324.3 L163.9 294.4 L178 306 Q186 312 198 302.5" fill="none" stroke="#ae7750" stroke-width="11.5" stroke-linejoin="round" stroke-linecap="round"/><path d="M205.5 298.6 L200.5 306 L196.6 299.1Z" fill="#ae7750" stroke="#ae7750" stroke-width="8" stroke-linejoin="round"/></g>
<g filter="url(#soft)"><path d="M78.9 357.4 L91.5 348.7 L97.8 324.3 L120.6 348.7 L111.2 316.4 L138.7 341.6 L129.3 307 L156 332.2 L146.6 300.7 L174.1 324.3 L163.9 294.4 L178 306 Q186 312 198 302.5" fill="none" stroke="url(#pg)" stroke-width="2.7" stroke-linejoin="round" stroke-linecap="round"/><path d="M205.5 298.6 L200.5 306 L196.6 299.1Z" fill="#58b8ea"/></g>
<text x="24.5" y="54.8" font-family="Liberation Sans, sans-serif" font-size="33.5" fill="#ffffff" textLength="42" lengthAdjust="spacingAndGlyphs">(a)</text>
<path d="M129 52.5 H183" stroke="#f2b07e" stroke-width="3.8" fill="none"/><path d="M192 52.5 L180.5 46.7 L180.5 58.3 Z" fill="#f2b07e"/>
<path d="M129 90.8 H183" stroke="#e9474d" stroke-width="3.8" fill="none"/><path d="M192 90.8 L180.5 85 L180.5 96.6 Z" fill="#e9474d"/>
<path d="M129 129.4 H183" stroke="#3fb2e2" stroke-width="3.8" fill="none"/><path d="M192 129.4 L180.5 123.6 L180.5 135.2 Z" fill="#3fb2e2"/>
<text x="208" y="59.5" font-family="Liberation Serif, serif" font-style="italic" font-weight="bold" font-size="28" fill="#f2b07e" textLength="21.5" lengthAdjust="spacingAndGlyphs">ω</text>
<text x="229.5" y="65.8" font-family="Liberation Serif, serif" font-style="italic" font-weight="bold" font-size="21" fill="#f2b07e">p</text>
<text x="208" y="97.5" font-family="Liberation Serif, serif" font-style="italic" font-weight="bold" font-size="28" fill="#e9474d" textLength="21.5" lengthAdjust="spacingAndGlyphs">ω</text>
<text x="229" y="103.8" font-family="Liberation Serif, serif" font-style="italic" font-weight="bold" font-size="21" fill="#e9474d">s</text>
<text x="208" y="136" font-family="Liberation Serif, serif" font-style="italic" font-weight="bold" font-size="28" fill="#3fb2e2" textLength="21.5" lengthAdjust="spacingAndGlyphs">ω</text>
<text x="229.5" y="142.3" font-family="Liberation Serif, serif" font-style="italic" font-weight="bold" font-size="21" fill="#3fb2e2">i</text>
<path d="M258.8 367.5 L295.6 405.6 L343.3 389.3" fill="none" stroke="#fff" stroke-width="3.2" stroke-linejoin="miter"/>
<path d="M270.6 367.8 L258.8 367.5 L258.8 378.3" fill="none" stroke="#fff" stroke-width="3.2"/>
<path d="M332.6 385.4 L343.3 389.3 L337.8 399" fill="none" stroke="#fff" stroke-width="3.2"/>
<text x="237" y="386.5" font-family="Liberation Serif, serif" font-style="italic" font-weight="bold" font-size="28" fill="#fff">y</text>
<text x="336.5" y="418" font-family="Liberation Serif, serif" font-style="italic" font-weight="bold" font-size="28" fill="#fff">x</text>
<text x="836.5" y="235.7" font-family="Liberation Sans, sans-serif" font-weight="bold" font-size="23" fill="#fff" textLength="55">FWM</text>
<path d="M812 247.6 H918 M812 415 H918" stroke="#fff" stroke-width="1.6"/>
<path d="M771.2 421.6 V254" stroke="#fff" stroke-width="1.5"/><path d="M771.2 244.6 L767.6 255.5 L774.8 255.5 Z" fill="#fff"/>
<text transform="translate(751.5 371.5) rotate(-90)" font-family="Liberation Sans, sans-serif" font-size="23" fill="#fff" textLength="74.5">Energy</text>
<path d="M844.3 415 V339 M844.3 334 V256" stroke="#f2b07e" stroke-width="3" fill="none"/>
<path d="M844.3 331.8 L840 341 L848.6 341 Z M844.3 248.3 L840 257.5 L848.6 257.5 Z" fill="#f2b07e"/>
<path d="M887.1 248.3 V335" stroke="#e9474d" stroke-width="4"/><path d="M887.1 343.6 L882.5 333.5 L891.7 333.5 Z" fill="#e9474d"/>
<path d="M887.1 343.6 V406" stroke="#3fb2e2" stroke-width="4"/><path d="M887.1 414.5 L882.5 404.5 L891.7 404.5 Z" fill="#3fb2e2"/>
<text x="791.5" y="304.5" font-family="Liberation Serif, serif" font-style="italic" font-size="25" fill="#f2b07e">ħω<tspan font-size="18" dy="5">p</tspan></text>
<text x="791.5" y="379" font-family="Liberation Serif, serif" font-style="italic" font-size="25" fill="#f2b07e">ħω<tspan font-size="18" dy="5">p</tspan></text>
<text x="909.5" y="303.5" font-family="Liberation Serif, serif" font-style="italic" font-size="25" fill="#e9474d">ħω<tspan font-size="18" dy="5">s</tspan></text>
<text x="909.5" y="378" font-family="Liberation Serif, serif" font-style="italic" font-size="25" fill="#3fb2e2">ħω<tspan font-size="18" dy="5">i</tspan></text>
<rect x="0" y="470.5" width="497" height="337" fill="#d4d4ec"/>
<clipPath id="cb"><rect x="0" y="470.5" width="497" height="337"/></clipPath>
<path clip-path="url(#cb)" d="M-75.1 631.8 L-28.8 631.8 L-51.9 591.7ZM-8.1 631.8 L38.3 631.8 L15.1 591.7ZM59 631.8 L105.3 631.8 L82.1 591.7ZM126 631.8 L172.4 631.8 L149.2 591.7ZM193.1 631.8 L239.4 631.8 L216.2 591.7ZM260.1 631.8 L306.5 631.8 L283.3 591.7ZM327.2 631.8 L373.5 631.8 L350.4 591.7ZM394.2 631.8 L440.6 631.8 L417.4 591.7ZM461.3 631.8 L507.6 631.8 L484.4 591.7ZM528.3 631.8 L574.7 631.8 L551.5 591.7ZM-41.6 573.7 L4.7 573.7 L-18.4 533.6ZM25.5 573.7 L71.8 573.7 L48.6 533.6ZM92.5 573.7 L138.8 573.7 L115.7 533.6ZM159.6 573.7 L205.9 573.7 L182.7 533.6ZM226.6 573.7 L272.9 573.7 L249.8 533.6ZM293.7 573.7 L340 573.7 L316.8 533.6ZM360.7 573.7 L407 573.7 L383.9 533.6ZM427.8 573.7 L474.1 573.7 L450.9 533.6ZM494.8 573.7 L541.1 573.7 L518 533.6ZM561.9 573.7 L608.2 573.7 L585 533.6ZM-75.1 515.7 L-28.8 515.7 L-51.9 475.5ZM-8.1 515.7 L38.3 515.7 L15.1 475.5ZM59 515.7 L105.3 515.7 L82.1 475.5ZM126 515.7 L172.4 515.7 L149.2 475.5ZM193.1 515.7 L239.4 515.7 L216.2 475.5ZM260.1 515.7 L306.5 515.7 L283.3 475.5ZM327.2 515.7 L373.5 515.7 L350.4 475.5ZM394.2 515.7 L440.6 515.7 L417.4 475.5ZM461.3 515.7 L507.6 515.7 L484.4 475.5ZM528.3 515.7 L574.7 515.7 L551.5 475.5ZM-75.1 643.2 L-28.8 643.2 L-51.9 683.3ZM-8.1 643.2 L38.3 643.2 L15.1 683.3ZM59 643.2 L105.3 643.2 L82.1 683.3ZM126 643.2 L172.4 643.2 L149.2 683.3ZM193.1 643.2 L239.4 643.2 L216.2 683.3ZM260.1 643.2 L306.5 643.2 L283.3 683.3ZM327.2 643.2 L373.5 643.2 L350.4 683.3ZM394.2 643.2 L440.6 643.2 L417.4 683.3ZM461.3 643.2 L507.6 643.2 L484.4 683.3ZM528.3 643.2 L574.7 643.2 L551.5 683.3ZM-41.6 701.3 L4.7 701.3 L-18.4 741.4ZM25.5 701.3 L71.8 701.3 L48.6 741.4ZM92.5 701.3 L138.8 701.3 L115.7 741.4ZM159.6 701.3 L205.9 701.3 L182.7 741.4ZM226.6 701.3 L272.9 701.3 L249.8 741.4ZM293.7 701.3 L340 701.3 L316.8 741.4ZM360.7 701.3 L407 701.3 L383.9 741.4ZM427.8 701.3 L474.1 701.3 L450.9 741.4ZM494.8 701.3 L541.1 701.3 L518 741.4ZM561.9 701.3 L608.2 701.3 L585 741.4ZM-75.1 759.3 L-28.8 759.3 L-51.9 799.5ZM-8.1 759.3 L38.3 759.3 L15.1 799.5ZM59 759.3 L105.3 759.3 L82.1 799.5ZM126 759.3 L172.4 759.3 L149.2 799.5ZM193.1 759.3 L239.4 759.3 L216.2 799.5ZM260.1 759.3 L306.5 759.3 L283.3 799.5ZM327.2 759.3 L373.5 759.3 L350.4 799.5ZM394.2 759.3 L440.6 759.3 L417.4 799.5ZM461.3 759.3 L507.6 759.3 L484.4 799.5ZM528.3 759.3 L574.7 759.3 L551.5 799.5ZM-28.2 593.5 L-8.7 593.5 L-18.4 610.4ZM38.9 593.5 L58.4 593.5 L48.6 610.4ZM105.9 593.5 L125.4 593.5 L115.7 610.4ZM173 593.5 L192.5 593.5 L182.7 610.4ZM240 593.5 L259.5 593.5 L249.8 610.4ZM307.1 593.5 L326.6 593.5 L316.8 610.4ZM374.1 593.5 L393.6 593.5 L383.9 610.4ZM441.2 593.5 L460.7 593.5 L450.9 610.4ZM508.2 593.5 L527.7 593.5 L518 610.4ZM575.3 593.5 L594.8 593.5 L585 610.4ZM5.3 535.4 L24.9 535.4 L15.1 552.3ZM72.4 535.4 L91.9 535.4 L82.1 552.3ZM139.4 535.4 L159 535.4 L149.2 552.3ZM206.5 535.4 L226 535.4 L216.2 552.3ZM273.5 535.4 L293.1 535.4 L283.3 552.3ZM340.6 535.4 L360.1 535.4 L350.4 552.3ZM407.6 535.4 L427.2 535.4 L417.4 552.3ZM474.7 535.4 L494.2 535.4 L484.4 552.3ZM541.7 535.4 L561.3 535.4 L551.5 552.3ZM608.8 535.4 L628.3 535.4 L618.5 552.3ZM-28.2 477.3 L-8.7 477.3 L-18.4 494.2ZM38.9 477.3 L58.4 477.3 L48.6 494.2ZM105.9 477.3 L125.4 477.3 L115.7 494.2ZM173 477.3 L192.5 477.3 L182.7 494.2ZM240 477.3 L259.5 477.3 L249.8 494.2ZM307.1 477.3 L326.6 477.3 L316.8 494.2ZM374.1 477.3 L393.6 477.3 L383.9 494.2ZM441.2 477.3 L460.7 477.3 L450.9 494.2ZM508.2 477.3 L527.7 477.3 L518 494.2ZM575.3 477.3 L594.8 477.3 L585 494.2ZM-28.2 682.4 L-8.7 682.4 L-18.4 665.5ZM38.9 682.4 L58.4 682.4 L48.6 665.5ZM105.9 682.4 L125.4 682.4 L115.7 665.5ZM173 682.4 L192.5 682.4 L182.7 665.5ZM240 682.4 L259.5 682.4 L249.8 665.5ZM307.1 682.4 L326.6 682.4 L316.8 665.5ZM374.1 682.4 L393.6 682.4 L383.9 665.5ZM441.2 682.4 L460.7 682.4 L450.9 665.5ZM508.2 682.4 L527.7 682.4 L518 665.5ZM575.3 682.4 L594.8 682.4 L585 665.5ZM5.3 740.5 L24.9 740.5 L15.1 723.6ZM72.4 740.5 L91.9 740.5 L82.1 723.6ZM139.4 740.5 L159 740.5 L149.2 723.6ZM206.5 740.5 L226 740.5 L216.2 723.6ZM273.5 740.5 L293.1 740.5 L283.3 723.6ZM340.6 740.5 L360.1 740.5 L350.4 723.6ZM407.6 740.5 L427.2 740.5 L417.4 723.6ZM474.7 740.5 L494.2 740.5 L484.4 723.6ZM541.7 740.5 L561.3 740.5 L551.5 723.6ZM608.8 740.5 L628.3 740.5 L618.5 723.6ZM-28.2 798.6 L-8.7 798.6 L-18.4 781.7ZM38.9 798.6 L58.4 798.6 L48.6 781.7ZM105.9 798.6 L125.4 798.6 L115.7 781.7ZM173 798.6 L192.5 798.6 L182.7 781.7ZM240 798.6 L259.5 798.6 L249.8 781.7ZM307.1 798.6 L326.6 798.6 L316.8 781.7ZM374.1 798.6 L393.6 798.6 L383.9 781.7ZM441.2 798.6 L460.7 798.6 L450.9 781.7ZM508.2 798.6 L527.7 798.6 L518 781.7ZM575.3 798.6 L594.8 798.6 L585 781.7Z" fill="#fcfcfd" stroke="#42424c" stroke-width="1.05"/>
<path d="M0 637.9 H497" stroke="#6f8a4a" stroke-width="2.2" stroke-dasharray="6 2" fill="none"/>
<path d="M122.1 525.2 H185.4 L215.5 578.5 H152.9 Z" fill="none" stroke="#e04e5e" stroke-width="1.9" stroke-dasharray="4.8 1.9"/>
<path d="M125.8 527 L155.2 577.8" fill="none" stroke="#e04e5e" stroke-width="1.7" stroke-dasharray="4.8 1.9"/>
<text x="194.5" y="531.8" font-family="Liberation Sans, sans-serif" font-size="14.5" fill="#e04e5e">VPC<tspan font-size="9" dy="3">1</tspan></text>
<path d="M156 583.8 H214" stroke="#e04e5e" stroke-width="1"/><path d="M154 583.8 l4 -2 v4 Z M216 583.8 l-4 -2 v4 Z" fill="#e04e5e"/>
<text x="180.5" y="593" font-family="Liberation Sans, sans-serif" font-size="13" fill="#e04e5e">a</text>
<path d="M275.9 531 H292.7" stroke="#e04e5e" stroke-width="1"/><path d="M273.9 531 l4 -2 v4 Z M294.7 531 l-4 -2 v4 Z" fill="#e04e5e"/>
<text x="276.5" y="526.5" font-family="Liberation Serif, serif" font-style="italic" font-size="15.5" fill="#e04e5e">d<tspan font-size="10" dy="3" font-style="normal">1</tspan></text>
<path d="M294.9 578.5 H338.4" stroke="#e04e5e" stroke-width="1"/><path d="M292.9 578.5 l4 -2 v4 Z M340.4 578.5 l-4 -2 v4 Z" fill="#e04e5e"/>
<text x="310.3" y="591" font-family="Liberation Serif, serif" font-style="italic" font-size="15.5" fill="#e04e5e">d<tspan font-size="10" dy="3" font-style="normal">2</tspan></text>
<path d="M82.3 658.2 L115.2 674.4 V717.3 L82.7 733.5 L49.8 713.8 V674.4 Z" fill="none" stroke="#e04e5e" stroke-width="1.9" stroke-dasharray="4.8 1.9"/>
<path d="M217.6 695.6 H280.1 L311 749.6 H248.6 Z" fill="none" stroke="#e04e5e" stroke-width="1.9" stroke-dasharray="4.8 1.9"/>
<path d="M221.3 697.6 L250.4 748.6" fill="none" stroke="#e04e5e" stroke-width="1.7" stroke-dasharray="4.8 1.9"/>
<text x="290" y="696.8" font-family="Liberation Sans, sans-serif" font-size="14.5" fill="#e04e5e">VPC<tspan font-size="9" dy="3">2</tspan></text>
<path d="M12.7 750 V785.7 H50" fill="none" stroke="#111" stroke-width="1.7"/><path d="M12.7 744.5 l-2.6 7 h5.2 Z M55 785.7 l-7 -2.6 v5.2 Z" fill="#111"/>
<text x="21.5" y="750.5" font-family="Liberation Serif, serif" font-style="italic" font-weight="bold" font-size="13" fill="#111">y</text>
<text x="46" y="778.5" font-family="Liberation Serif, serif" font-style="italic" font-weight="bold" font-size="13" fill="#111">x</text>
<rect x="419" y="783.6" width="60.4" height="3.6" fill="#0a0a0a"/>
<text x="424.5" y="777.2" font-family="Liberation Sans, sans-serif" font-size="14" fill="#111" textLength="50">400 nm</text>
<text x="15.8" y="516" font-family="Liberation Sans, sans-serif" font-size="33" fill="#111" textLength="42" lengthAdjust="spacingAndGlyphs">(b)</text>
<rect x="556.6" y="581.8" width="231" height="37" fill="#c9c9c9"/>
<clipPath id="cc"><rect x="556.6" y="511.2" width="231" height="256.8"/></clipPath><g clip-path="url(#cc)">
<path d="M605.6 766.5h0M607.1 761.6h0M608.6 756.3h0M610.1 750.9h0M611.6 745.3h0M613.1 739.8h0M614.6 734.4h0M616.1 729.2h0M617.6 724.1h0M619.1 719h0M620.6 714h0M622.1 709.1h0M623.6 704.2h0M625.1 699.4h0M626.6 694.6h0M628.1 690h0M629.6 685.3h0M631.1 680.7h0M632.6 675.9h0M634.1 671.8h0M635.6 669.5h0M637.1 668.2h0M638.6 667.4h0M640.1 666.8h0M641.6 666.1h0M643.1 665.6h0M644.6 665h0M646.1 664.1h0M647.6 662.8h0M649.1 661h0M650.6 659.1h0M652.1 656.8h0M653.6 654.4h0M655.1 652h0M656.6 649.4h0M658.1 646.7h0M659.6 643.8h0M661.1 640.8h0M662.6 637.6h0M664.1 634.1h0M665.6 630.2h0M667.1 626h0M668.6 621.5h0M670.1 615.7h0M671.6 612.6h0M673.1 615.9h0M674.6 621.8h0M676.1 625.8h0M677.6 629.2h0M679.1 632.7h0M680.6 636.2h0M682.1 639.6h0M683.6 643h0M685.1 646.5h0M686.6 650.1h0M688.1 653.7h0M689.6 657.6h0M691.1 661.6h0M692.6 665.9h0M694.1 670.3h0M695.6 674.7h0M697.1 679.2h0M698.6 683.6h0M700.1 687.8h0M701.6 691.9h0M703.1 695.8h0M704.6 699.6h0M706.1 703.5h0M707.6 707.3h0M709.1 711.1h0M710.6 715h0M712.1 718.9h0M713.6 722.9h0M715.1 726.9h0M716.6 731h0M718.1 735.1h0M719.6 739.4h0M721.1 743.9h0M722.6 748.6h0M724.1 753.4h0M725.6 758.2h0M727.1 763h0" stroke="#3d9e6e" stroke-width="3.3" stroke-linecap="round" fill="none"/>
<path d="M605.6 766.5h0M607.1 761.6h0M608.6 756.3h0M610.1 750.9h0M611.6 745.3h0M613.1 739.8h0M614.6 734.4h0M616.1 729.2h0M617.6 724.1h0M619.1 719h0M620.6 714h0M622.1 709.1h0M623.6 704.2h0M625.1 699.4h0M626.6 694.6h0M628.1 690h0M629.6 685.3h0M631.1 680.7h0M632.6 675.9h0M634.1 671.8h0M635.6 669.5h0M637.1 668.2h0M638.6 667.4h0M640.1 666.8h0M641.6 666.1h0M643.1 665.6h0M644.6 665h0M646.1 664.1h0M647.6 662.8h0M649.1 661h0M650.6 659.1h0M652.1 656.8h0M653.6 654.4h0M655.1 652h0M656.6 649.4h0M658.1 646.7h0M659.6 643.8h0M661.1 640.8h0M662.6 637.6h0M664.1 634.1h0M665.6 630.2h0M667.1 626h0M668.6 621.5h0M670.1 615.7h0M671.6 612.6h0M673.1 615.9h0M674.6 621.8h0M676.1 625.8h0M677.6 629.2h0M679.1 632.7h0M680.6 636.2h0M682.1 639.6h0M683.6 643h0M685.1 646.5h0M686.6 650.1h0M688.1 653.7h0M689.6 657.6h0M691.1 661.6h0M692.6 665.9h0M694.1 670.3h0M695.6 674.7h0M697.1 679.2h0M698.6 683.6h0M700.1 687.8h0M701.6 691.9h0M703.1 695.8h0M704.6 699.6h0M706.1 703.5h0M707.6 707.3h0M709.1 711.1h0M710.6 715h0M712.1 718.9h0M713.6 722.9h0M715.1 726.9h0M716.6 731h0M718.1 735.1h0M719.6 739.4h0M721.1 743.9h0M722.6 748.6h0M724.1 753.4h0M725.6 758.2h0M727.1 763h0" stroke="#a6dcc0" stroke-width="1.3" stroke-linecap="round" fill="none" transform="translate(-0.2 -0.3)"/>
<path d="M603.6 766.5h0M605.1 761.6h0M606.6 756.4h0M608.1 751h0M609.6 745.5h0M611.1 740.1h0M612.6 734.7h0M614.1 729.5h0M615.6 724.3h0M617.1 719.3h0M618.6 714.2h0M620.1 709.3h0M621.6 704.5h0M623.1 699.8h0M624.6 695.2h0M626.1 690.6h0M627.6 686.2h0M629.1 681.8h0M630.6 677.4h0M632.1 672.8h0M633.6 669.3h0M635.1 667.3h0M636.6 666.4h0M638.1 665.7h0M639.6 665.2h0M641.1 664.6h0M642.6 664.1h0M644.1 663.5h0M645.6 662.6h0M647.1 661.1h0M648.6 659.4h0M650.1 657.5h0M651.6 655.3h0M653.1 653h0M654.6 650.6h0M656.1 648.1h0M657.6 645.5h0M659.1 642.8h0M660.6 640.1h0M662.1 637.4h0M663.6 634.5h0M665.1 631.6h0M666.6 628.6h0M668.1 625.8h0M669.6 622.6h0M671.1 620.1h0M672.6 620.3h0M674.1 622.8h0M675.6 625.5h0M677.1 627.7h0M678.6 630.1h0M680.1 632.8h0M681.6 635.7h0M683.1 638.9h0M684.6 642.2h0M686.1 645.7h0M687.6 649.2h0M689.1 652.9h0M690.6 656.6h0M692.1 660.3h0M693.6 664.3h0M695.1 668.5h0M696.6 672.7h0M698.1 677h0M699.6 681.3h0M701.1 685.4h0M702.6 689.4h0M704.1 693.3h0M705.6 697h0M707.1 700.7h0M708.6 704.4h0M710.1 708.1h0M711.6 711.8h0M713.1 715.5h0M714.6 719.4h0M716.1 723.3h0M717.6 727.2h0M719.1 731.2h0M720.6 735.3h0M722.1 739.5h0M723.6 743.8h0M725.1 748.4h0M726.6 753.1h0M728.1 757.8h0M729.6 762.4h0" stroke="#d9545e" stroke-width="3.3" stroke-linecap="round" fill="none"/>
<path d="M603.6 766.5h0M605.1 761.6h0M606.6 756.4h0M608.1 751h0M609.6 745.5h0M611.1 740.1h0M612.6 734.7h0M614.1 729.5h0M615.6 724.3h0M617.1 719.3h0M618.6 714.2h0M620.1 709.3h0M621.6 704.5h0M623.1 699.8h0M624.6 695.2h0M626.1 690.6h0M627.6 686.2h0M629.1 681.8h0M630.6 677.4h0M632.1 672.8h0M633.6 669.3h0M635.1 667.3h0M636.6 666.4h0M638.1 665.7h0M639.6 665.2h0M641.1 664.6h0M642.6 664.1h0M644.1 663.5h0M645.6 662.6h0M647.1 661.1h0M648.6 659.4h0M650.1 657.5h0M651.6 655.3h0M653.1 653h0M654.6 650.6h0M656.1 648.1h0M657.6 645.5h0M659.1 642.8h0M660.6 640.1h0M662.1 637.4h0M663.6 634.5h0M665.1 631.6h0M666.6 628.6h0M668.1 625.8h0M669.6 622.6h0M671.1 620.1h0M672.6 620.3h0M674.1 622.8h0M675.6 625.5h0M677.1 627.7h0M678.6 630.1h0M680.1 632.8h0M681.6 635.7h0M683.1 638.9h0M684.6 642.2h0M686.1 645.7h0M687.6 649.2h0M689.1 652.9h0M690.6 656.6h0M692.1 660.3h0M693.6 664.3h0M695.1 668.5h0M696.6 672.7h0M698.1 677h0M699.6 681.3h0M701.1 685.4h0M702.6 689.4h0M704.1 693.3h0M705.6 697h0M707.1 700.7h0M708.6 704.4h0M710.1 708.1h0M711.6 711.8h0M713.1 715.5h0M714.6 719.4h0M716.1 723.3h0M717.6 727.2h0M719.1 731.2h0M720.6 735.3h0M722.1 739.5h0M723.6 743.8h0M725.1 748.4h0M726.6 753.1h0M728.1 757.8h0M729.6 762.4h0" stroke="#f3b4b6" stroke-width="1.3" stroke-linecap="round" fill="none" transform="translate(-0.2 -0.3)"/>
<path d="M659 511h0M660.5 516.4h0M662 521.6h0M663.5 526.4h0M665 531.1h0M666.5 535.1h0M668 537.6h0M669.5 539h0M671 539.7h0M672.5 539.8h0M674 539.4h0M675.5 538.8h0M677 538.1h0M678.5 537.1h0M680 536.1h0M681.5 535h0M683 533.8h0M684.5 532.5h0M686 531.1h0M687.5 529.6h0M689 528h0M690.5 526.5h0M692 524.9h0M693.5 523.1h0M695 521.3h0M696.5 519.4h0M698 517.5h0M699.5 515.6h0M701 513.7h0M702.5 511.9h0" stroke="#3d9e6e" stroke-width="3.3" stroke-linecap="round" fill="none"/>
<path d="M659 511h0M660.5 516.4h0M662 521.6h0M663.5 526.4h0M665 531.1h0M666.5 535.1h0M668 537.6h0M669.5 539h0M671 539.7h0M672.5 539.8h0M674 539.4h0M675.5 538.8h0M677 538.1h0M678.5 537.1h0M680 536.1h0M681.5 535h0M683 533.8h0M684.5 532.5h0M686 531.1h0M687.5 529.6h0M689 528h0M690.5 526.5h0M692 524.9h0M693.5 523.1h0M695 521.3h0M696.5 519.4h0M698 517.5h0M699.5 515.6h0M701 513.7h0M702.5 511.9h0" stroke="#a6dcc0" stroke-width="1.3" stroke-linecap="round" fill="none" transform="translate(-0.2 -0.3)"/>
<path d="M607.4 511h0M608.9 517.2h0M610.4 522.4h0M611.9 527.1h0M613.4 531.5h0M614.9 536.2h0M616.4 541h0M617.9 546h0M619.4 550.9h0M620.9 555.8h0M622.4 560.5h0M623.9 565h0M625.4 569.2h0M626.9 573.3h0M628.4 577.4h0M629.9 581.4h0M631.4 585.6h0M632.9 590h0M634.4 594.2h0M635.9 597.8h0M637.4 600.5h0M638.9 602.6h0M640.4 603.8h0M641.9 604.6h0M643.4 605h0M644.9 604.8h0M646.4 604.1h0M647.9 603.2h0M649.4 602.3h0M650.9 601.5h0M652.4 600.7h0M653.9 599.8h0M655.4 599.1h0M656.9 598.6h0M658.4 598.3h0M659.9 598.1h0M661.4 597.9h0M662.9 597.8h0M664.4 598h0M665.9 599.3h0M667.4 601h0M668.9 604h0M670.4 608.1h0M671.6 612.3h0M673.1 608.5h0M674.6 604.9h0M676.1 601.3h0M677.6 597.9h0M679.1 594.6h0M680.6 591.4h0M682.1 588.3h0M683.6 585.3h0M685.1 582.4h0M686.6 579.7h0M688.1 577.1h0M689.6 574.4h0M691.1 571.8h0M692.6 569h0M694.1 566.1h0M695.6 563.1h0M697.1 559.9h0M698.6 556.7h0M700.1 553.4h0M701.6 550.1h0M703.1 546.8h0M704.6 543.5h0M706.1 540.3h0M707.6 537.1h0M709.1 534h0M710.6 531h0M712.1 527.9h0M713.6 524.9h0M715.1 521.8h0M716.6 518.8h0M718.1 515.7h0M719.6 512.5h0" stroke="#3d9e6e" stroke-width="3.3" stroke-linecap="round" fill="none"/>
<path d="M607.4 511h0M608.9 517.2h0M610.4 522.4h0M611.9 527.1h0M613.4 531.5h0M614.9 536.2h0M616.4 541h0M617.9 546h0M619.4 550.9h0M620.9 555.8h0M622.4 560.5h0M623.9 565h0M625.4 569.2h0M626.9 573.3h0M628.4 577.4h0M629.9 581.4h0M631.4 585.6h0M632.9 590h0M634.4 594.2h0M635.9 597.8h0M637.4 600.5h0M638.9 602.6h0M640.4 603.8h0M641.9 604.6h0M643.4 605h0M644.9 604.8h0M646.4 604.1h0M647.9 603.2h0M649.4 602.3h0M650.9 601.5h0M652.4 600.7h0M653.9 599.8h0M655.4 599.1h0M656.9 598.6h0M658.4 598.3h0M659.9 598.1h0M661.4 597.9h0M662.9 597.8h0M664.4 598h0M665.9 599.3h0M667.4 601h0M668.9 604h0M670.4 608.1h0M671.6 612.3h0M673.1 608.5h0M674.6 604.9h0M676.1 601.3h0M677.6 597.9h0M679.1 594.6h0M680.6 591.4h0M682.1 588.3h0M683.6 585.3h0M685.1 582.4h0M686.6 579.7h0M688.1 577.1h0M689.6 574.4h0M691.1 571.8h0M692.6 569h0M694.1 566.1h0M695.6 563.1h0M697.1 559.9h0M698.6 556.7h0M700.1 553.4h0M701.6 550.1h0M703.1 546.8h0M704.6 543.5h0M706.1 540.3h0M707.6 537.1h0M709.1 534h0M710.6 531h0M712.1 527.9h0M713.6 524.9h0M715.1 521.8h0M716.6 518.8h0M718.1 515.7h0M719.6 512.5h0" stroke="#a6dcc0" stroke-width="1.3" stroke-linecap="round" fill="none" transform="translate(-0.2 -0.3)"/>
<path d="M611 511h0M612.5 514.4h0M614 518.2h0M615.5 522.2h0M617 526.3h0M618.5 530.4h0M620 534.5h0M621.5 538.7h0M623 542.8h0M624.5 546.9h0M626 550.9h0M627.5 554.8h0M629 558.6h0M630.5 562.2h0M632 565.6h0M633.5 568.9h0M635 571.7h0M636.5 574h0M638 575.8h0M639.5 576.6h0M641 577.2h0M642.5 577.6h0M644 577.7h0M645.5 577.6h0M647 577.4h0M648.5 577.2h0M650 576.9h0M651.5 576.4h0M653 575.5h0M654.5 574.8h0M656 574.3h0M657.5 574h0M659 573.9h0M660.5 574.1h0M662 574.6h0M663.5 575.2h0M665 576.2h0M666.5 577.7h0M668 579h0M669.5 579.9h0M671 580.5h0M672.5 580.5h0M674 579.8h0M675.5 578.7h0M677 577.1h0M678.5 575.3h0M680 573.5h0M681.5 571.6h0M683 569.5h0M684.5 567.3h0M686 565.1h0M687.5 562.7h0M689 560.2h0M690.5 557.4h0M692 554.6h0M693.5 551.7h0M695 548.9h0M696.5 546h0M698 543.3h0M699.5 540.5h0M701 537.7h0M702.5 534.9h0M704 532.1h0M705.5 529.4h0M707 526.7h0M708.5 524.1h0M710 521.5h0M711.5 519h0M713 516.5h0M714.5 514h0M716 511.5h0" stroke="#d9545e" stroke-width="3.3" stroke-linecap="round" fill="none"/>
<path d="M611 511h0M612.5 514.4h0M614 518.2h0M615.5 522.2h0M617 526.3h0M618.5 530.4h0M620 534.5h0M621.5 538.7h0M623 542.8h0M624.5 546.9h0M626 550.9h0M627.5 554.8h0M629 558.6h0M630.5 562.2h0M632 565.6h0M633.5 568.9h0M635 571.7h0M636.5 574h0M638 575.8h0M639.5 576.6h0M641 577.2h0M642.5 577.6h0M644 577.7h0M645.5 577.6h0M647 577.4h0M648.5 577.2h0M650 576.9h0M651.5 576.4h0M653 575.5h0M654.5 574.8h0M656 574.3h0M657.5 574h0M659 573.9h0M660.5 574.1h0M662 574.6h0M663.5 575.2h0M665 576.2h0M666.5 577.7h0M668 579h0M669.5 579.9h0M671 580.5h0M672.5 580.5h0M674 579.8h0M675.5 578.7h0M677 577.1h0M678.5 575.3h0M680 573.5h0M681.5 571.6h0M683 569.5h0M684.5 567.3h0M686 565.1h0M687.5 562.7h0M689 560.2h0M690.5 557.4h0M692 554.6h0M693.5 551.7h0M695 548.9h0M696.5 546h0M698 543.3h0M699.5 540.5h0M701 537.7h0M702.5 534.9h0M704 532.1h0M705.5 529.4h0M707 526.7h0M708.5 524.1h0M710 521.5h0M711.5 519h0M713 516.5h0M714.5 514h0M716 511.5h0" stroke="#f3b4b6" stroke-width="1.3" stroke-linecap="round" fill="none" transform="translate(-0.2 -0.3)"/>
</g>
<rect x="556.6" y="511.2" width="231" height="255.3" fill="none" stroke="#222" stroke-width="1"/>
<text x="550.3" y="769.7" text-anchor="end" font-family="Liberation Serif, serif" font-size="13" fill="#1a1a1a">100</text>
<text x="550.3" y="735.6" text-anchor="end" font-family="Liberation Serif, serif" font-size="13" fill="#1a1a1a">120</text>
<text x="550.3" y="701.4" text-anchor="end" font-family="Liberation Serif, serif" font-size="13" fill="#1a1a1a">140</text>
<text x="550.3" y="667.2" text-anchor="end" font-family="Liberation Serif, serif" font-size="13" fill="#1a1a1a">160</text>
<text x="550.3" y="633.1" text-anchor="end" font-family="Liberation Serif, serif" font-size="13" fill="#1a1a1a">180</text>
<text x="550.3" y="599" text-anchor="end" font-family="Liberation Serif, serif" font-size="13" fill="#1a1a1a">200</text>
<text x="550.3" y="564.8" text-anchor="end" font-family="Liberation Serif, serif" font-size="13" fill="#1a1a1a">220</text>
<text x="550.3" y="530.7" text-anchor="end" font-family="Liberation Serif, serif" font-size="13" fill="#1a1a1a">240</text>
<path d="M556.6 766.5h3.5M556.6 732.4h3.5M556.6 698.2h3.5M556.6 664h3.5M556.6 629.9h3.5M556.6 595.8h3.5M556.6 561.6h3.5M556.6 527.5h3.5M634.4 766.5v-3.5M675.3 766.5v-3.5" stroke="#222" stroke-width="1" fill="none"/>
<text x="556" y="779.8" font-family="Liberation Serif, serif" font-size="12.6" fill="#1a1a1a">Γ</text>
<text x="631.2" y="779.8" font-family="Liberation Serif, serif" font-size="12.6" fill="#1a1a1a">M</text>
<text x="671.5" y="779.8" font-family="Liberation Serif, serif" font-size="12.6" fill="#1a1a1a">K(K´)</text>
<text x="782.8" y="779.8" font-family="Liberation Serif, serif" font-size="12.6" fill="#1a1a1a">Γ</text>
<text transform="translate(518.4 655.8) rotate(-90)" font-family="Liberation Sans, sans-serif" font-weight="bold" font-size="11.7" fill="#111" textLength="85">Freqency (THz)</text>
<text x="507" y="507.3" font-family="Liberation Sans, sans-serif" font-size="32.5" fill="#111" textLength="40.5" lengthAdjust="spacingAndGlyphs">(c)</text>
<circle cx="574.7" cy="500.9" r="1.8" fill="#3d9e6e"/><circle cx="574.5" cy="500.6" r="0.7" fill="#a6dcc0"/>
<text x="581.5" y="504.2" font-family="Liberation Serif, serif" font-size="10.8" fill="#3d9e6e"><tspan font-style="italic">d</tspan><tspan font-size="7" dy="2.2">1</tspan><tspan dy="-2.2">=0.5a, </tspan><tspan font-style="italic">d</tspan><tspan font-size="7" dy="2.2">2</tspan><tspan dy="-2.2">=0.5a</tspan></text>
<circle cx="685.2" cy="500.9" r="1.8" fill="#d9545e"/><circle cx="685" cy="500.6" r="0.7" fill="#f3b4b6"/>
<text x="694" y="504.2" font-family="Liberation Serif, serif" font-size="10.8" fill="#d9545e"><tspan font-style="italic">d</tspan><tspan font-size="7" dy="2.2">1</tspan><tspan dy="-2.2">=0.3a, </tspan><tspan font-style="italic">d</tspan><tspan font-size="7" dy="2.2">2</tspan><tspan dy="-2.2">=0.7a</tspan></text>
<path d="M646.7 717.9 L654.1 703.3 H674.4 L681.5 717.9 L674.4 732.4 H654.1 Z" fill="none" stroke="#2a2a2a" stroke-width="1"/>
<path d="M664.4 717.9 H681.5 M664.4 717.9 L678.1 710.7" stroke="#2a2a2a" stroke-width="0.9" fill="none"/>
<text x="656.8" y="721.1" font-family="Liberation Serif, serif" font-size="9" fill="#1a1a1a">Γ</text>
<text x="679.6" y="710.5" font-family="Liberation Serif, serif" font-size="9" fill="#1a1a1a">M</text>
<text x="684.2" y="720.8" font-family="Liberation Serif, serif" font-size="9" fill="#1a1a1a">K</text>
<clipPath id="cd"><rect x="836.9" y="510.8" width="226.4" height="255.7"/></clipPath><g clip-path="url(#cd)">
<path d="M836.9 531 L838.8 534.8 L840.7 538.4 L842.6 541.9 L844.5 545.4 L846.4 548.7 L848.3 551.9 L850.2 555.1 L852.1 558.2 L854 561.3 L855.9 564.3 L857.8 567.3 L859.7 570.3 L861.6 573.3 L863.5 576.3 L865.4 579.3 L867.3 582.3 L869.2 585.3 L871.1 588.2 L873 591.1 L875 593.9 L876.9 596.7 L878.8 599.4 L880.7 602.1 L882.6 604.6 L884.5 607.2 L886.4 609.7 L888.3 612.2 L890.2 614.7 L892.1 617.1 L894 619.6 L895.9 621.9 L897.8 624.3 L899.7 626.6 L901.6 628.8 L903.5 631 L905.4 633.2 L907.3 635.4 L909.2 637.6 L911.1 639.7 L913 641.9 L914.9 644 L916.8 646.2 L918.7 648.2 L920.6 650.2 L922.5 652.1 L924.4 653.8 L926.3 655.3 L928.2 656.8 L930.1 658.2 L932 659.6 L933.9 661.2 L935.8 662.9 L937.7 664.9 L939.6 667.2 L941.5 669.8 L943.4 672.6 L945.3 675.5 L947.2 678.6 L949.1 681.7 L949.6 682.5 L948.1 684.9 L946.2 688.1 L944.3 691.2 L942.4 694.1 L940.5 696.8 L938.6 699.2 L936.7 701.1 L934.8 702.7 L932.9 703.8 L931 704.7 L929.1 705.4 L927.2 706.1 L925.3 706.7 L923.4 707.3 L921.5 708.1 L919.6 708.9 L917.7 709.8 L915.8 710.7 L913.9 711.6 L912 712.5 L910.1 713.4 L908.2 714.3 L906.3 715.1 L904.4 715.9 L902.5 716.7 L900.6 717.4 L898.7 718.1 L896.8 718.7 L894.9 719.3 L893 719.8 L891.1 720.3 L889.2 720.8 L887.3 721.3 L885.4 721.8 L883.5 722.3 L881.6 722.8 L879.7 723.2 L877.8 723.6 L875.9 724 L874 724.3 L872 724.5 L870.1 724.7 L868.2 724.9 L866.3 725 L864.4 725 L862.5 725 L860.6 725 L858.7 724.9 L856.8 724.7 L854.9 724.6 L853 724.4 L851.1 724.1 L849.2 723.9 L847.3 723.6 L845.4 723.2 L843.5 722.9 L841.6 722.5 L839.7 722 L837.8 721.6Z" fill="#d9f1e7"/>
<path d="M949.6 682.5 L950.1 681.7 L952 678.6 L953.9 675.5 L955.8 672.6 L957.7 669.8 L959.6 667.2 L961.5 664.9 L963.4 662.9 L965.3 661.2 L967.2 659.6 L969.1 658.2 L971 656.8 L972.9 655.3 L974.8 653.8 L976.7 652.1 L978.6 650.2 L980.5 648.2 L982.4 646.2 L984.3 644 L986.2 641.9 L988.1 639.7 L990 637.6 L991.9 635.4 L993.8 633.2 L995.7 631 L997.6 628.8 L999.5 626.6 L1001.4 624.3 L1003.3 621.9 L1005.2 619.6 L1007.1 617.1 L1009 614.7 L1010.9 612.2 L1012.8 609.7 L1014.7 607.2 L1016.6 604.6 L1018.5 602.1 L1020.4 599.4 L1022.3 596.7 L1024.2 593.9 L1026.2 591.1 L1028.1 588.2 L1030 585.3 L1031.9 582.3 L1033.8 579.3 L1035.7 576.3 L1037.6 573.3 L1039.5 570.3 L1041.4 567.3 L1043.3 564.3 L1045.2 561.3 L1047.1 558.2 L1049 555.1 L1050.9 551.9 L1052.8 548.7 L1054.7 545.4 L1056.6 541.9 L1058.5 538.4 L1060.4 534.8 L1062.3 531 L1063.3 721.1 L1061.4 721.6 L1059.5 722 L1057.6 722.5 L1055.7 722.9 L1053.8 723.2 L1051.9 723.6 L1050 723.9 L1048.1 724.1 L1046.2 724.4 L1044.3 724.6 L1042.4 724.7 L1040.5 724.9 L1038.6 725 L1036.7 725 L1034.8 725 L1032.9 725 L1031 724.9 L1029.1 724.7 L1027.2 724.5 L1025.2 724.3 L1023.3 724 L1021.4 723.6 L1019.5 723.2 L1017.6 722.8 L1015.7 722.3 L1013.8 721.8 L1011.9 721.3 L1010 720.8 L1008.1 720.3 L1006.2 719.8 L1004.3 719.3 L1002.4 718.7 L1000.5 718.1 L998.6 717.4 L996.7 716.7 L994.8 715.9 L992.9 715.1 L991 714.3 L989.1 713.4 L987.2 712.5 L985.3 711.6 L983.4 710.7 L981.5 709.8 L979.6 708.9 L977.7 708.1 L975.8 707.3 L973.9 706.7 L972 706.1 L970.1 705.4 L968.2 704.7 L966.3 703.8 L964.4 702.7 L962.5 701.1 L960.6 699.2 L958.7 696.8 L956.8 694.1 L954.9 691.2 L953 688.1 L951.1 684.9Z" fill="#f2cfbe"/>
<path d="M950 637 V676" stroke="#cfcfe8" stroke-width="1.3"/>
<g opacity="0.8"><path d="M939.8 633.4 L983.6 629.9 L983.6 634.9 L939.8 638.4Z" fill="#bdbde0"/><path d="M915.4 597.3 L939.8 633.4 L939.8 638.4 L915.4 602.3Z" fill="#c4c4e4"/><path d="M915.4 597.3 L960.2 595.9 L983.6 629.9 L939.8 633.4Z" fill="#cdcdeb"/><path d="M923 601 L957.9 599.9 L976.2 626.4 L942 629.2Z" fill="none" stroke="#dcdcf2" stroke-width="2"/></g><path d="M932.5 610 L944 609.5 L940 619.5Z" fill="#ffffff" opacity="0.95"/><path d="M952 625.5 L958.5 614 L966.5 625Z" fill="#ffffff" opacity="0.95"/>
<g opacity="0.8"><path d="M873.6 691.6 L918.4 688 L918.4 693.5 L873.6 697.1Z" fill="#bdbde0"/><path d="M851.2 656.4 L873.6 691.6 L873.6 697.1 L851.2 661.9Z" fill="#c4c4e4"/><path d="M851.2 656.4 L895 653.7 L918.4 688 L873.6 691.6Z" fill="#cdcdeb"/><path d="M858.5 659.9 L892.7 657.8 L911 684.6 L876 687.4Z" fill="none" stroke="#dcdcf2" stroke-width="2"/></g><path d="M863.5 666 L884.5 664.5 L877 681.5Z" fill="#ffffff" opacity="0.95"/><path d="M892 680.5 L894 677.5 L896 680.3Z" fill="#ffffff" opacity="0.95"/>
<g opacity="0.8"><path d="M1008.1 691.6 L1048.8 687 L1048.8 692.5 L1008.1 697.1Z" fill="#bdbde0"/><path d="M983.6 657.4 L1008.1 691.6 L1008.1 697.1 L983.6 662.9Z" fill="#c4c4e4"/><path d="M983.6 657.4 L1024.4 655.8 L1048.8 687 L1008.1 691.6Z" fill="#cdcdeb"/><path d="M990.8 660.8 L1022.6 659.6 L1041.6 683.9 L1009.9 687.5Z" fill="none" stroke="#dcdcf2" stroke-width="2"/></g><path d="M1015 686 L1026.5 667 L1039.5 684.5Z" fill="#ffffff" opacity="0.95"/><path d="M1004.5 668 L1008 667.8 L1006.5 671Z" fill="#ffffff" opacity="0.95"/>
<path d="M837.8 721.6 L839.7 722 L841.6 722.5 L843.5 722.9 L845.4 723.2 L847.3 723.6 L849.2 723.9 L851.1 724.1 L853 724.4 L854.9 724.6 L856.8 724.7 L858.7 724.9 L860.6 725 L862.5 725 L864.4 725 L866.3 725 L868.2 724.9 L870.1 724.7 L872 724.5 L874 724.3 L875.9 724 L877.8 723.6 L879.7 723.2 L881.6 722.8 L883.5 722.3 L885.4 721.8 L887.3 721.3 L889.2 720.8 L891.1 720.3 L893 719.8 L894.9 719.3 L896.8 718.7 L898.7 718.1 L900.6 717.4 L902.5 716.7 L904.4 715.9 L906.3 715.1 L908.2 714.3 L910.1 713.4 L912 712.5 L913.9 711.6 L915.8 710.7 L917.7 709.8 L919.6 708.9 L921.5 708.1 L923.4 707.3 L925.3 706.7 L927.2 706.1 L929.1 705.4 L931 704.7 L932.9 703.8 L934.8 702.7 L936.7 701.1 L938.6 699.2 L940.5 696.8 L942.4 694.1 L944.3 691.2 L946.2 688.1 L948.1 684.9 L950.1 681.7 L952 678.6 L953.9 675.5 L955.8 672.6 L957.7 669.8 L959.6 667.2 L961.5 664.9 L963.4 662.9 L965.3 661.2 L967.2 659.6 L969.1 658.2 L971 656.8 L972.9 655.3 L974.8 653.8 L976.7 652.1 L978.6 650.2 L980.5 648.2 L982.4 646.2 L984.3 644 L986.2 641.9 L988.1 639.7 L990 637.6 L991.9 635.4 L993.8 633.2 L995.7 631 L997.6 628.8 L999.5 626.6 L1001.4 624.3 L1003.3 621.9 L1005.2 619.6 L1007.1 617.1 L1009 614.7 L1010.9 612.2 L1012.8 609.7 L1014.7 607.2 L1016.6 604.6 L1018.5 602.1 L1020.4 599.4 L1022.3 596.7 L1024.2 593.9 L1026.2 591.1 L1028.1 588.2 L1030 585.3 L1031.9 582.3 L1033.8 579.3 L1035.7 576.3 L1037.6 573.3 L1039.5 570.3 L1041.4 567.3 L1043.3 564.3 L1045.2 561.3 L1047.1 558.2 L1049 555.1 L1050.9 551.9 L1052.8 548.7 L1054.7 545.4 L1056.6 541.9 L1058.5 538.4 L1060.4 534.8 L1062.3 531" fill="none" stroke="#4fa698" stroke-width="3"/>
<path d="M836.9 531 L838.8 534.8 L840.7 538.4 L842.6 541.9 L844.5 545.4 L846.4 548.7 L848.3 551.9 L850.2 555.1 L852.1 558.2 L854 561.3 L855.9 564.3 L857.8 567.3 L859.7 570.3 L861.6 573.3 L863.5 576.3 L865.4 579.3 L867.3 582.3 L869.2 585.3 L871.1 588.2 L873 591.1 L875 593.9 L876.9 596.7 L878.8 599.4 L880.7 602.1 L882.6 604.6 L884.5 607.2 L886.4 609.7 L888.3 612.2 L890.2 614.7 L892.1 617.1 L894 619.6 L895.9 621.9 L897.8 624.3 L899.7 626.6 L901.6 628.8 L903.5 631 L905.4 633.2 L907.3 635.4 L909.2 637.6 L911.1 639.7 L913 641.9 L914.9 644 L916.8 646.2 L918.7 648.2 L920.6 650.2 L922.5 652.1 L924.4 653.8 L926.3 655.3 L928.2 656.8 L930.1 658.2 L932 659.6 L933.9 661.2 L935.8 662.9 L937.7 664.9 L939.6 667.2 L941.5 669.8 L943.4 672.6 L945.3 675.5 L947.2 678.6 L949.1 681.7 L951.1 684.9 L953 688.1 L954.9 691.2 L956.8 694.1 L958.7 696.8 L960.6 699.2 L962.5 701.1 L964.4 702.7 L966.3 703.8 L968.2 704.7 L970.1 705.4 L972 706.1 L973.9 706.7 L975.8 707.3 L977.7 708.1 L979.6 708.9 L981.5 709.8 L983.4 710.7 L985.3 711.6 L987.2 712.5 L989.1 713.4 L991 714.3 L992.9 715.1 L994.8 715.9 L996.7 716.7 L998.6 717.4 L1000.5 718.1 L1002.4 718.7 L1004.3 719.3 L1006.2 719.8 L1008.1 720.3 L1010 720.8 L1011.9 721.3 L1013.8 721.8 L1015.7 722.3 L1017.6 722.8 L1019.5 723.2 L1021.4 723.6 L1023.3 724 L1025.2 724.3 L1027.2 724.5 L1029.1 724.7 L1031 724.9 L1032.9 725 L1034.8 725 L1036.7 725 L1038.6 725 L1040.5 724.9 L1042.4 724.7 L1044.3 724.6 L1046.2 724.4 L1048.1 724.1 L1050 723.9 L1051.9 723.6 L1053.8 723.2 L1055.7 722.9 L1057.6 722.5 L1059.5 722 L1061.4 721.6 L1063.3 721.1" fill="none" stroke="#dc434c" stroke-width="3.1"/>
<circle cx="837" cy="531.1" r="3.1" fill="#dc434c"/><circle cx="836.7" cy="530.7" r="1.3" fill="#f3a3a6"/>
<circle cx="1062.2" cy="531.1" r="3.1" fill="#4fa698"/><circle cx="1061.9" cy="530.7" r="1.3" fill="#bfe6dc"/>
<circle cx="849.5" cy="553.9" r="3.1" fill="#dc434c"/><circle cx="849.2" cy="553.5" r="1.3" fill="#f3a3a6"/>
<circle cx="1049.7" cy="553.9" r="3.1" fill="#4fa698"/><circle cx="1049.4" cy="553.5" r="1.3" fill="#bfe6dc"/>
<circle cx="862" cy="573.9" r="3.1" fill="#dc434c"/><circle cx="861.7" cy="573.5" r="1.3" fill="#f3a3a6"/>
<circle cx="1037.2" cy="573.9" r="3.1" fill="#4fa698"/><circle cx="1036.9" cy="573.5" r="1.3" fill="#bfe6dc"/>
<circle cx="874.5" cy="593.3" r="3.1" fill="#dc434c"/><circle cx="874.2" cy="592.9" r="1.3" fill="#f3a3a6"/>
<circle cx="1024.7" cy="593.3" r="3.1" fill="#4fa698"/><circle cx="1024.4" cy="592.9" r="1.3" fill="#bfe6dc"/>
<circle cx="887" cy="610.6" r="3.1" fill="#dc434c"/><circle cx="886.7" cy="610.2" r="1.3" fill="#f3a3a6"/>
<circle cx="1012.2" cy="610.6" r="3.1" fill="#4fa698"/><circle cx="1011.9" cy="610.2" r="1.3" fill="#bfe6dc"/>
<circle cx="899.5" cy="626.4" r="3.1" fill="#dc434c"/><circle cx="899.2" cy="626" r="1.3" fill="#f3a3a6"/>
<circle cx="999.7" cy="626.4" r="3.1" fill="#4fa698"/><circle cx="999.4" cy="626" r="1.3" fill="#bfe6dc"/>
<circle cx="912.1" cy="640.8" r="3.1" fill="#dc434c"/><circle cx="911.8" cy="640.4" r="1.3" fill="#f3a3a6"/>
<circle cx="987.1" cy="640.8" r="3.1" fill="#4fa698"/><circle cx="986.8" cy="640.4" r="1.3" fill="#bfe6dc"/>
<circle cx="924.6" cy="653.9" r="3.1" fill="#dc434c"/><circle cx="924.3" cy="653.5" r="1.3" fill="#f3a3a6"/>
<circle cx="974.6" cy="653.9" r="3.1" fill="#4fa698"/><circle cx="974.3" cy="653.5" r="1.3" fill="#bfe6dc"/>
<circle cx="937.1" cy="664.2" r="3.1" fill="#dc434c"/><circle cx="936.8" cy="663.8" r="1.3" fill="#f3a3a6"/>
<circle cx="962.1" cy="664.2" r="3.1" fill="#4fa698"/><circle cx="961.8" cy="663.8" r="1.3" fill="#bfe6dc"/>
<circle cx="962.1" cy="700.8" r="3.1" fill="#dc434c"/><circle cx="961.8" cy="700.4" r="1.3" fill="#f3a3a6"/>
<circle cx="937.1" cy="700.8" r="3.1" fill="#4fa698"/><circle cx="936.8" cy="700.4" r="1.3" fill="#bfe6dc"/>
<circle cx="974.6" cy="706.9" r="3.1" fill="#dc434c"/><circle cx="974.3" cy="706.5" r="1.3" fill="#f3a3a6"/>
<circle cx="924.6" cy="706.9" r="3.1" fill="#4fa698"/><circle cx="924.3" cy="706.5" r="1.3" fill="#bfe6dc"/>
<circle cx="987.1" cy="712.5" r="3.1" fill="#dc434c"/><circle cx="986.8" cy="712.1" r="1.3" fill="#f3a3a6"/>
<circle cx="912.1" cy="712.5" r="3.1" fill="#4fa698"/><circle cx="911.8" cy="712.1" r="1.3" fill="#bfe6dc"/>
<circle cx="999.7" cy="717.8" r="3.1" fill="#dc434c"/><circle cx="999.4" cy="717.4" r="1.3" fill="#f3a3a6"/>
<circle cx="899.5" cy="717.8" r="3.1" fill="#4fa698"/><circle cx="899.2" cy="717.4" r="1.3" fill="#bfe6dc"/>
<circle cx="1012.2" cy="721.4" r="3.1" fill="#dc434c"/><circle cx="1011.9" cy="721" r="1.3" fill="#f3a3a6"/>
<circle cx="887" cy="721.4" r="3.1" fill="#4fa698"/><circle cx="886.7" cy="721" r="1.3" fill="#bfe6dc"/>
<circle cx="1024.7" cy="724.2" r="3.1" fill="#dc434c"/><circle cx="1024.4" cy="723.8" r="1.3" fill="#f3a3a6"/>
<circle cx="874.5" cy="724.2" r="3.1" fill="#4fa698"/><circle cx="874.2" cy="723.8" r="1.3" fill="#bfe6dc"/>
<circle cx="1037.2" cy="725" r="3.1" fill="#dc434c"/><circle cx="1036.9" cy="724.6" r="1.3" fill="#f3a3a6"/>
<circle cx="862" cy="725" r="3.1" fill="#4fa698"/><circle cx="861.7" cy="724.6" r="1.3" fill="#bfe6dc"/>
<circle cx="1049.7" cy="723.9" r="3.1" fill="#dc434c"/><circle cx="1049.4" cy="723.5" r="1.3" fill="#f3a3a6"/>
<circle cx="849.5" cy="723.9" r="3.1" fill="#4fa698"/><circle cx="849.2" cy="723.5" r="1.3" fill="#bfe6dc"/>
<circle cx="1062.2" cy="721.4" r="3.1" fill="#dc434c"/><circle cx="1061.9" cy="721" r="1.3" fill="#f3a3a6"/>
<circle cx="837" cy="721.4" r="3.1" fill="#4fa698"/><circle cx="836.7" cy="721" r="1.3" fill="#bfe6dc"/>
</g>
<rect x="836.9" y="510.8" width="226.4" height="255.7" fill="none" stroke="#333" stroke-width="1"/>
<text x="830.5" y="551.4" text-anchor="end" font-family="Liberation Serif, serif" font-size="12.5" fill="#1a1a1a">210</text>
<text x="830.5" y="624.2" text-anchor="end" font-family="Liberation Serif, serif" font-size="12.5" fill="#1a1a1a">200</text>
<text x="830.5" y="697.8" text-anchor="end" font-family="Liberation Serif, serif" font-size="12.5" fill="#1a1a1a">190</text>
<text x="830.5" y="768.2" text-anchor="end" font-family="Liberation Serif, serif" font-size="12.5" fill="#1a1a1a">180</text>
<path d="M836.9 547.2h4M836.9 620h4M836.9 693.6h4M836.9 583.6h2.5M836.9 656.8h2.5M836.9 730h2.5M849.5 766.5v-4M874.5 766.5v-2.5M899.5 766.5v-4M924.6 766.5v-2.5M949.6 766.5v-4M974.6 766.5v-2.5M999.7 766.5v-4M1024.7 766.5v-2.5M1049.7 766.5v-4" stroke="#333" stroke-width="1" fill="none"/>
<text x="849.5" y="780.6" text-anchor="middle" font-family="Liberation Serif, serif" font-size="12.5" fill="#1a1a1a">−0.4</text>
<text x="899.5" y="780.6" text-anchor="middle" font-family="Liberation Serif, serif" font-size="12.5" fill="#1a1a1a">−0.2</text>
<text x="949.6" y="780.6" text-anchor="middle" font-family="Liberation Serif, serif" font-size="12.5" fill="#1a1a1a">0</text>
<text x="999.7" y="780.6" text-anchor="middle" font-family="Liberation Serif, serif" font-size="12.5" fill="#1a1a1a">0.2</text>
<text x="1049.7" y="780.6" text-anchor="middle" font-family="Liberation Serif, serif" font-size="12.5" fill="#1a1a1a">0.4</text>
<text x="935.5" y="794.3" font-family="Liberation Sans, sans-serif" font-size="13" fill="#222">Δ<tspan font-family="Liberation Serif, serif" font-style="italic" font-size="14">d</tspan>(a)</text>
<text x="916.5" y="502" font-family="Liberation Serif, serif" font-size="12.6" fill="#222" textLength="62">Δ<tspan font-style="italic">d</tspan>= <tspan font-style="italic">d</tspan><tspan font-size="8" dy="2.4">2</tspan><tspan dy="-2.4"> − </tspan><tspan font-style="italic">d</tspan><tspan font-size="8" dy="2.4">1</tspan></text>
<text transform="translate(805.2 656.6) rotate(-90)" font-family="Liberation Sans, sans-serif" font-weight="bold" font-size="11.7" fill="#111" textLength="85">Freqency (THz)</text>
<text x="789.3" y="509.3" font-family="Liberation Sans, sans-serif" font-size="35.5" fill="#111" textLength="44.6" lengthAdjust="spacingAndGlyphs">(d)</text>
<rect x="492.1" y="470.5" width="4.9" height="337" fill="#fafafd" opacity="0.86"/>
</svg></body></html>
